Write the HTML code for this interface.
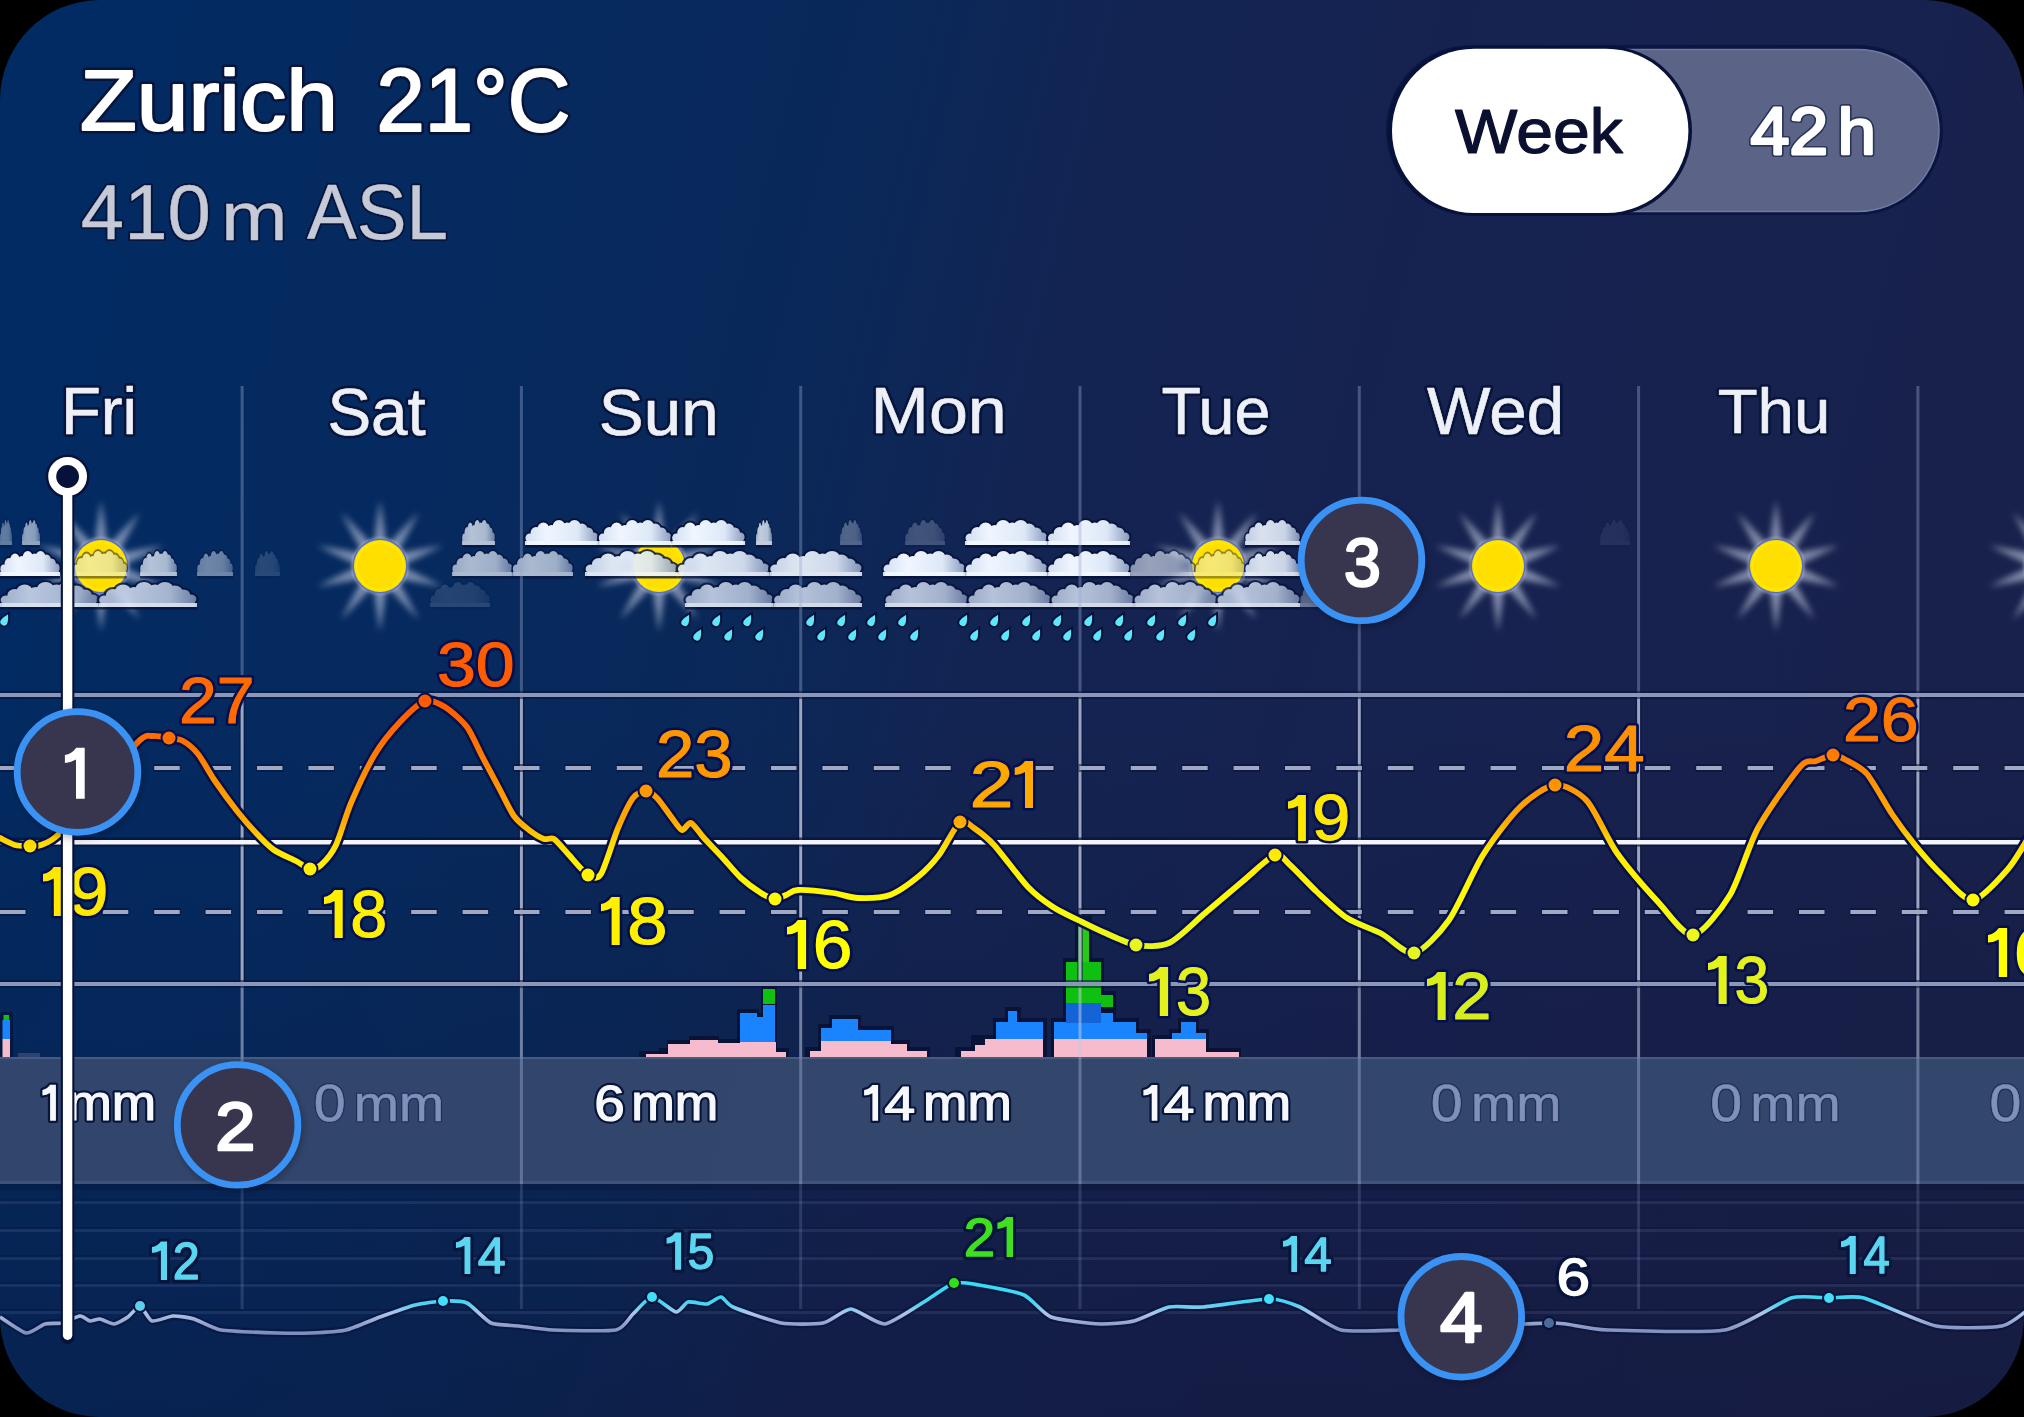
<!DOCTYPE html>
<html><head><meta charset="utf-8"><title>Zurich weather</title>
<style>
html,body{margin:0;padding:0;width:2024px;height:1417px;background:#000}
#card{position:absolute;left:0;top:0;width:2024px;height:1417px;border-radius:100px;overflow:hidden;background:linear-gradient(180deg,rgba(0,0,0,0) 50%,rgba(14,10,34,0.24) 100%),linear-gradient(104deg,#012b63 0%,#052a60 20%,#0a2859 38%,#0f2655 44%,#132452 48%,#162250 65%,#19214a 100%)}
svg{position:absolute;left:0;top:0}
text{font-family:"Liberation Sans",sans-serif;white-space:pre}
</style></head><body><div id="card">
<svg width="2024" height="1417" viewBox="0 0 2024 1417">
<defs>
<linearGradient id="tg" gradientUnits="userSpaceOnUse" x1="0" y1="700" x2="0" y2="960">
<stop offset="0" stop-color="#ff5a00"/><stop offset="0.146" stop-color="#ff6e00"/><stop offset="0.346" stop-color="#ff9800"/><stop offset="0.469" stop-color="#ffaa00"/><stop offset="0.546" stop-color="#ffd800"/><stop offset="0.596" stop-color="#ffec00"/><stop offset="0.77" stop-color="#fffa00"/><stop offset="0.96" stop-color="#e6f520"/></linearGradient>
<linearGradient id="wg" gradientUnits="userSpaceOnUse" x1="0" y1="1282" x2="0" y2="1334">
<stop offset="0" stop-color="#30e0f8"/><stop offset="0.4" stop-color="#48d4f2"/><stop offset="0.6" stop-color="#b0c4ec"/><stop offset="0.8" stop-color="#95a4cc"/><stop offset="1" stop-color="#7c8cbc"/></linearGradient>
<linearGradient id="cg" x1="0" y1="0" x2="1" y2="0"><stop offset="0" stop-color="#dfe9f7"/><stop offset="0.55" stop-color="#c8d6ea"/><stop offset="0.85" stop-color="#8d9cc0"/><stop offset="1" stop-color="#5d6e96"/></linearGradient>
<filter id="blur3" x="-50%" y="-50%" width="200%" height="200%"><feGaussianBlur stdDeviation="3"/></filter>
<filter id="blur2" x="-50%" y="-50%" width="200%" height="200%"><feGaussianBlur stdDeviation="2"/></filter>
<filter id="blur1" x="-20%" y="-20%" width="140%" height="140%"><feGaussianBlur stdDeviation="1.2"/></filter>
</defs>

<rect x="0" y="1057" width="2024" height="127" fill="#36496f" fill-opacity="0.93"/>
<rect x="0" y="1057" width="2024" height="2" fill="#a8b8e0" fill-opacity="0.18"/>
<rect x="0" y="1181" width="2024" height="3" fill="#a8b8e0" fill-opacity="0.12"/>
<rect x="0" y="1184" width="2024" height="6" fill="#030a28" fill-opacity="0.25"/>
<rect x="0" y="1199" width="2024" height="2" fill="#030a28" fill-opacity="0.18"/>
<rect x="0" y="1201" width="2024" height="3" fill="#8898d0" fill-opacity="0.13"/>
<rect x="0" y="1227" width="2024" height="2" fill="#030a28" fill-opacity="0.18"/>
<rect x="0" y="1229" width="2024" height="3" fill="#8898d0" fill-opacity="0.13"/>
<rect x="0" y="1255" width="2024" height="2" fill="#030a28" fill-opacity="0.18"/>
<rect x="0" y="1257" width="2024" height="3" fill="#8898d0" fill-opacity="0.13"/>
<rect x="0" y="1282" width="2024" height="2" fill="#030a28" fill-opacity="0.18"/>
<rect x="0" y="1284" width="2024" height="3" fill="#8898d0" fill-opacity="0.13"/>
<rect x="0" y="1309" width="2024" height="2" fill="#030a28" fill-opacity="0.18"/>
<rect x="0" y="1311" width="2024" height="3" fill="#8898d0" fill-opacity="0.13"/>
<defs><linearGradient id="cuag" gradientUnits="userSpaceOnUse" x1="0" y1="0" x2="80" y2="0"><stop offset="0" stop-color="#d2def2"/><stop offset="0.3" stop-color="#f0f6ff"/><stop offset="0.72" stop-color="#dde8f7"/><stop offset="1" stop-color="#8a9abe"/></linearGradient><linearGradient id="cucg" gradientUnits="userSpaceOnUse" x1="0" y1="0" x2="80" y2="0"><stop offset="0" stop-color="#aebcd6"/><stop offset="0.3" stop-color="#ccd8ec"/><stop offset="0.72" stop-color="#b6c4dc"/><stop offset="1" stop-color="#7585ab"/></linearGradient></defs>
<g opacity="1"><g filter="url(#blur3)" fill="#c4cbe2" fill-opacity="0.62"><path d="M94.5,545.0 L101.0,500.0 L107.5,545.0Z"/><path d="M83.4,552.8 L62.2,512.6 L93.9,545.2Z"/><path d="M79.0,565.7 L38.2,545.6 L83.0,553.3Z"/><path d="M83.0,578.7 L38.2,586.4 L79.0,566.3Z"/><path d="M93.9,586.8 L62.2,619.4 L83.4,579.2Z"/><path d="M107.5,587.0 L101.0,632.0 L94.5,587.0Z"/><path d="M118.6,579.2 L139.8,619.4 L108.1,586.8Z"/><path d="M123.0,566.3 L163.8,586.4 L119.0,578.7Z"/><path d="M119.0,553.3 L163.8,545.6 L123.0,565.7Z"/><path d="M108.1,545.2 L139.8,512.6 L118.6,552.8Z"/></g><circle cx="101" cy="566" r="29" fill="#c8d0f0" fill-opacity="0.35" filter="url(#blur1)"/><circle cx="101" cy="566" r="27.5" fill="#5a70c0"/><circle cx="101" cy="566" r="26" fill="#ffdf00"/><circle cx="101" cy="566" r="23.5" fill="none" stroke="#fff000" stroke-width="2.5" stroke-opacity="0.5"/></g>
<g opacity="1"><g filter="url(#blur3)" fill="#c4cbe2" fill-opacity="0.62"><path d="M373.5,545.0 L380.0,500.0 L386.5,545.0Z"/><path d="M362.4,552.8 L341.2,512.6 L372.9,545.2Z"/><path d="M358.0,565.7 L317.2,545.6 L362.0,553.3Z"/><path d="M362.0,578.7 L317.2,586.4 L358.0,566.3Z"/><path d="M372.9,586.8 L341.2,619.4 L362.4,579.2Z"/><path d="M386.5,587.0 L380.0,632.0 L373.5,587.0Z"/><path d="M397.6,579.2 L418.8,619.4 L387.1,586.8Z"/><path d="M402.0,566.3 L442.8,586.4 L398.0,578.7Z"/><path d="M398.0,553.3 L442.8,545.6 L402.0,565.7Z"/><path d="M387.1,545.2 L418.8,512.6 L397.6,552.8Z"/></g><circle cx="380" cy="566" r="29" fill="#c8d0f0" fill-opacity="0.35" filter="url(#blur1)"/><circle cx="380" cy="566" r="27.5" fill="#5a70c0"/><circle cx="380" cy="566" r="26" fill="#ffdf00"/><circle cx="380" cy="566" r="23.5" fill="none" stroke="#fff000" stroke-width="2.5" stroke-opacity="0.5"/></g>
<g opacity="1"><g filter="url(#blur3)" fill="#c4cbe2" fill-opacity="0.62"><path d="M652.5,545.0 L659.0,500.0 L665.5,545.0Z"/><path d="M641.4,552.8 L620.2,512.6 L651.9,545.2Z"/><path d="M637.0,565.7 L596.2,545.6 L641.0,553.3Z"/><path d="M641.0,578.7 L596.2,586.4 L637.0,566.3Z"/><path d="M651.9,586.8 L620.2,619.4 L641.4,579.2Z"/><path d="M665.5,587.0 L659.0,632.0 L652.5,587.0Z"/><path d="M676.6,579.2 L697.8,619.4 L666.1,586.8Z"/><path d="M681.0,566.3 L721.8,586.4 L677.0,578.7Z"/><path d="M677.0,553.3 L721.8,545.6 L681.0,565.7Z"/><path d="M666.1,545.2 L697.8,512.6 L676.6,552.8Z"/></g><circle cx="659" cy="566" r="29" fill="#c8d0f0" fill-opacity="0.35" filter="url(#blur1)"/><circle cx="659" cy="566" r="27.5" fill="#5a70c0"/><circle cx="659" cy="566" r="26" fill="#ffdf00"/><circle cx="659" cy="566" r="23.5" fill="none" stroke="#fff000" stroke-width="2.5" stroke-opacity="0.5"/></g>
<g opacity="1"><g filter="url(#blur3)" fill="#c4cbe2" fill-opacity="0.62"><path d="M1211.5,545.0 L1218.0,500.0 L1224.5,545.0Z"/><path d="M1200.4,552.8 L1179.2,512.6 L1210.9,545.2Z"/><path d="M1196.0,565.7 L1155.2,545.6 L1200.0,553.3Z"/><path d="M1200.0,578.7 L1155.2,586.4 L1196.0,566.3Z"/><path d="M1210.9,586.8 L1179.2,619.4 L1200.4,579.2Z"/><path d="M1224.5,587.0 L1218.0,632.0 L1211.5,587.0Z"/><path d="M1235.6,579.2 L1256.8,619.4 L1225.1,586.8Z"/><path d="M1240.0,566.3 L1280.8,586.4 L1236.0,578.7Z"/><path d="M1236.0,553.3 L1280.8,545.6 L1240.0,565.7Z"/><path d="M1225.1,545.2 L1256.8,512.6 L1235.6,552.8Z"/></g><circle cx="1218" cy="566" r="29" fill="#c8d0f0" fill-opacity="0.35" filter="url(#blur1)"/><circle cx="1218" cy="566" r="27.5" fill="#5a70c0"/><circle cx="1218" cy="566" r="26" fill="#ffdf00"/><circle cx="1218" cy="566" r="23.5" fill="none" stroke="#fff000" stroke-width="2.5" stroke-opacity="0.5"/></g>
<g opacity="1"><g filter="url(#blur3)" fill="#c4cbe2" fill-opacity="0.62"><path d="M1491.5,545.0 L1498.0,500.0 L1504.5,545.0Z"/><path d="M1480.4,552.8 L1459.2,512.6 L1490.9,545.2Z"/><path d="M1476.0,565.7 L1435.2,545.6 L1480.0,553.3Z"/><path d="M1480.0,578.7 L1435.2,586.4 L1476.0,566.3Z"/><path d="M1490.9,586.8 L1459.2,619.4 L1480.4,579.2Z"/><path d="M1504.5,587.0 L1498.0,632.0 L1491.5,587.0Z"/><path d="M1515.6,579.2 L1536.8,619.4 L1505.1,586.8Z"/><path d="M1520.0,566.3 L1560.8,586.4 L1516.0,578.7Z"/><path d="M1516.0,553.3 L1560.8,545.6 L1520.0,565.7Z"/><path d="M1505.1,545.2 L1536.8,512.6 L1515.6,552.8Z"/></g><circle cx="1498" cy="566" r="29" fill="#c8d0f0" fill-opacity="0.35" filter="url(#blur1)"/><circle cx="1498" cy="566" r="27.5" fill="#5a70c0"/><circle cx="1498" cy="566" r="26" fill="#ffdf00"/><circle cx="1498" cy="566" r="23.5" fill="none" stroke="#fff000" stroke-width="2.5" stroke-opacity="0.5"/></g>
<g opacity="1"><g filter="url(#blur3)" fill="#c4cbe2" fill-opacity="0.62"><path d="M1769.5,545.0 L1776.0,500.0 L1782.5,545.0Z"/><path d="M1758.4,552.8 L1737.2,512.6 L1768.9,545.2Z"/><path d="M1754.0,565.7 L1713.2,545.6 L1758.0,553.3Z"/><path d="M1758.0,578.7 L1713.2,586.4 L1754.0,566.3Z"/><path d="M1768.9,586.8 L1737.2,619.4 L1758.4,579.2Z"/><path d="M1782.5,587.0 L1776.0,632.0 L1769.5,587.0Z"/><path d="M1793.6,579.2 L1814.8,619.4 L1783.1,586.8Z"/><path d="M1798.0,566.3 L1838.8,586.4 L1794.0,578.7Z"/><path d="M1794.0,553.3 L1838.8,545.6 L1798.0,565.7Z"/><path d="M1783.1,545.2 L1814.8,512.6 L1793.6,552.8Z"/></g><circle cx="1776" cy="566" r="29" fill="#c8d0f0" fill-opacity="0.35" filter="url(#blur1)"/><circle cx="1776" cy="566" r="27.5" fill="#5a70c0"/><circle cx="1776" cy="566" r="26" fill="#ffdf00"/><circle cx="1776" cy="566" r="23.5" fill="none" stroke="#fff000" stroke-width="2.5" stroke-opacity="0.5"/></g>
<g opacity="1"><g filter="url(#blur3)" fill="#c4cbe2" fill-opacity="0.62"><path d="M2045.5,545.0 L2052.0,500.0 L2058.5,545.0Z"/><path d="M2034.4,552.8 L2013.2,512.6 L2044.9,545.2Z"/><path d="M2030.0,565.7 L1989.2,545.6 L2034.0,553.3Z"/><path d="M2034.0,578.7 L1989.2,586.4 L2030.0,566.3Z"/><path d="M2044.9,586.8 L2013.2,619.4 L2034.4,579.2Z"/><path d="M2058.5,587.0 L2052.0,632.0 L2045.5,587.0Z"/><path d="M2069.6,579.2 L2090.8,619.4 L2059.1,586.8Z"/><path d="M2074.0,566.3 L2114.8,586.4 L2070.0,578.7Z"/><path d="M2070.0,553.3 L2114.8,545.6 L2074.0,565.7Z"/><path d="M2059.1,545.2 L2090.8,512.6 L2069.6,552.8Z"/></g><circle cx="2052" cy="566" r="29" fill="#c8d0f0" fill-opacity="0.35" filter="url(#blur1)"/><circle cx="2052" cy="566" r="27.5" fill="#5a70c0"/><circle cx="2052" cy="566" r="26" fill="#ffdf00"/><circle cx="2052" cy="566" r="23.5" fill="none" stroke="#fff000" stroke-width="2.5" stroke-opacity="0.5"/></g>
<g opacity="0.4"><g transform="translate(0.0,519) scale(0.150,1)"><g fill="#06123a" fill-opacity="0.9"><circle cx="5" cy="19" r="6.5"/><circle cx="12" cy="14" r="8"/><circle cx="20" cy="10" r="8.5"/><circle cx="29" cy="12" r="8"/><circle cx="37" cy="8" r="9"/><circle cx="46" cy="10" r="8.5"/><circle cx="54" cy="8" r="9"/><circle cx="62" cy="11" r="8.5"/><circle cx="69" cy="14" r="7.5"/><circle cx="75" cy="18" r="6.5"/></g><g fill="url(#cuag)"><circle cx="5" cy="19" r="4.5"/><circle cx="12" cy="14" r="6"/><circle cx="20" cy="10" r="6.5"/><circle cx="29" cy="12" r="6"/><circle cx="37" cy="8" r="7"/><circle cx="46" cy="10" r="6.5"/><circle cx="54" cy="8" r="7"/><circle cx="62" cy="11" r="6.5"/><circle cx="69" cy="14" r="5.5"/><circle cx="75" cy="18" r="4.5"/><polygon points="2,26 2,19 5,19 12,14 20,10 29,12 37,8 46,10 54,8 62,11 69,14 75,18 78,18 78,26"/></g><rect x="0" y="22" width="80" height="4" fill="#f2f7ff" fill-opacity="0.9"/><rect x="0" y="26" width="80" height="2.5" fill="#06123a" fill-opacity="0.85"/></g></g>
<g opacity="0.6"><g transform="translate(22.0,519) scale(0.225,1)"><g fill="#06123a" fill-opacity="0.9"><circle cx="5" cy="19" r="6.5"/><circle cx="12" cy="14" r="8"/><circle cx="20" cy="10" r="8.5"/><circle cx="29" cy="12" r="8"/><circle cx="37" cy="8" r="9"/><circle cx="46" cy="10" r="8.5"/><circle cx="54" cy="8" r="9"/><circle cx="62" cy="11" r="8.5"/><circle cx="69" cy="14" r="7.5"/><circle cx="75" cy="18" r="6.5"/></g><g fill="url(#cuag)"><circle cx="5" cy="19" r="4.5"/><circle cx="12" cy="14" r="6"/><circle cx="20" cy="10" r="6.5"/><circle cx="29" cy="12" r="6"/><circle cx="37" cy="8" r="7"/><circle cx="46" cy="10" r="6.5"/><circle cx="54" cy="8" r="7"/><circle cx="62" cy="11" r="6.5"/><circle cx="69" cy="14" r="5.5"/><circle cx="75" cy="18" r="4.5"/><polygon points="2,26 2,19 5,19 12,14 20,10 29,12 37,8 46,10 54,8 62,11 69,14 75,18 78,18 78,26"/></g><rect x="0" y="22" width="80" height="4" fill="#f2f7ff" fill-opacity="0.9"/><rect x="0" y="26" width="80" height="2.5" fill="#06123a" fill-opacity="0.85"/></g></g>
<g opacity="0.75"><g transform="translate(462.0,519) scale(0.412,1)"><g fill="#06123a" fill-opacity="0.9"><circle cx="5" cy="19" r="6.5"/><circle cx="12" cy="14" r="8"/><circle cx="20" cy="10" r="8.5"/><circle cx="29" cy="12" r="8"/><circle cx="37" cy="8" r="9"/><circle cx="46" cy="10" r="8.5"/><circle cx="54" cy="8" r="9"/><circle cx="62" cy="11" r="8.5"/><circle cx="69" cy="14" r="7.5"/><circle cx="75" cy="18" r="6.5"/></g><g fill="url(#cuag)"><circle cx="5" cy="19" r="4.5"/><circle cx="12" cy="14" r="6"/><circle cx="20" cy="10" r="6.5"/><circle cx="29" cy="12" r="6"/><circle cx="37" cy="8" r="7"/><circle cx="46" cy="10" r="6.5"/><circle cx="54" cy="8" r="7"/><circle cx="62" cy="11" r="6.5"/><circle cx="69" cy="14" r="5.5"/><circle cx="75" cy="18" r="4.5"/><polygon points="2,26 2,19 5,19 12,14 20,10 29,12 37,8 46,10 54,8 62,11 69,14 75,18 78,18 78,26"/></g><rect x="0" y="22" width="80" height="4" fill="#f2f7ff" fill-opacity="0.9"/><rect x="0" y="26" width="80" height="2.5" fill="#06123a" fill-opacity="0.85"/></g></g>
<g opacity="1"><g transform="translate(525.0,519) scale(0.917,1)"><g fill="#06123a" fill-opacity="0.9"><circle cx="5" cy="19" r="6.5"/><circle cx="12" cy="14" r="8"/><circle cx="20" cy="10" r="8.5"/><circle cx="29" cy="12" r="8"/><circle cx="37" cy="8" r="9"/><circle cx="46" cy="10" r="8.5"/><circle cx="54" cy="8" r="9"/><circle cx="62" cy="11" r="8.5"/><circle cx="69" cy="14" r="7.5"/><circle cx="75" cy="18" r="6.5"/></g><g fill="url(#cuag)"><circle cx="5" cy="19" r="4.5"/><circle cx="12" cy="14" r="6"/><circle cx="20" cy="10" r="6.5"/><circle cx="29" cy="12" r="6"/><circle cx="37" cy="8" r="7"/><circle cx="46" cy="10" r="6.5"/><circle cx="54" cy="8" r="7"/><circle cx="62" cy="11" r="6.5"/><circle cx="69" cy="14" r="5.5"/><circle cx="75" cy="18" r="4.5"/><polygon points="2,26 2,19 5,19 12,14 20,10 29,12 37,8 46,10 54,8 62,11 69,14 75,18 78,18 78,26"/></g><rect x="0" y="22" width="80" height="4" fill="#f2f7ff" fill-opacity="0.9"/><rect x="0" y="26" width="80" height="2.5" fill="#06123a" fill-opacity="0.85"/></g><g transform="translate(598.3,519) scale(0.917,1)"><g fill="#06123a" fill-opacity="0.9"><circle cx="5" cy="19" r="6.5"/><circle cx="12" cy="14" r="8"/><circle cx="20" cy="10" r="8.5"/><circle cx="29" cy="12" r="8"/><circle cx="37" cy="8" r="9"/><circle cx="46" cy="10" r="8.5"/><circle cx="54" cy="8" r="9"/><circle cx="62" cy="11" r="8.5"/><circle cx="69" cy="14" r="7.5"/><circle cx="75" cy="18" r="6.5"/></g><g fill="url(#cuag)"><circle cx="5" cy="19" r="4.5"/><circle cx="12" cy="14" r="6"/><circle cx="20" cy="10" r="6.5"/><circle cx="29" cy="12" r="6"/><circle cx="37" cy="8" r="7"/><circle cx="46" cy="10" r="6.5"/><circle cx="54" cy="8" r="7"/><circle cx="62" cy="11" r="6.5"/><circle cx="69" cy="14" r="5.5"/><circle cx="75" cy="18" r="4.5"/><polygon points="2,26 2,19 5,19 12,14 20,10 29,12 37,8 46,10 54,8 62,11 69,14 75,18 78,18 78,26"/></g><rect x="0" y="22" width="80" height="4" fill="#f2f7ff" fill-opacity="0.9"/><rect x="0" y="26" width="80" height="2.5" fill="#06123a" fill-opacity="0.85"/></g><g transform="translate(671.7,519) scale(0.917,1)"><g fill="#06123a" fill-opacity="0.9"><circle cx="5" cy="19" r="6.5"/><circle cx="12" cy="14" r="8"/><circle cx="20" cy="10" r="8.5"/><circle cx="29" cy="12" r="8"/><circle cx="37" cy="8" r="9"/><circle cx="46" cy="10" r="8.5"/><circle cx="54" cy="8" r="9"/><circle cx="62" cy="11" r="8.5"/><circle cx="69" cy="14" r="7.5"/><circle cx="75" cy="18" r="6.5"/></g><g fill="url(#cuag)"><circle cx="5" cy="19" r="4.5"/><circle cx="12" cy="14" r="6"/><circle cx="20" cy="10" r="6.5"/><circle cx="29" cy="12" r="6"/><circle cx="37" cy="8" r="7"/><circle cx="46" cy="10" r="6.5"/><circle cx="54" cy="8" r="7"/><circle cx="62" cy="11" r="6.5"/><circle cx="69" cy="14" r="5.5"/><circle cx="75" cy="18" r="4.5"/><polygon points="2,26 2,19 5,19 12,14 20,10 29,12 37,8 46,10 54,8 62,11 69,14 75,18 78,18 78,26"/></g><rect x="0" y="22" width="80" height="4" fill="#f2f7ff" fill-opacity="0.9"/><rect x="0" y="26" width="80" height="2.5" fill="#06123a" fill-opacity="0.85"/></g></g>
<g opacity="0.8"><g transform="translate(756.0,519) scale(0.200,1)"><g fill="#06123a" fill-opacity="0.9"><circle cx="5" cy="19" r="6.5"/><circle cx="12" cy="14" r="8"/><circle cx="20" cy="10" r="8.5"/><circle cx="29" cy="12" r="8"/><circle cx="37" cy="8" r="9"/><circle cx="46" cy="10" r="8.5"/><circle cx="54" cy="8" r="9"/><circle cx="62" cy="11" r="8.5"/><circle cx="69" cy="14" r="7.5"/><circle cx="75" cy="18" r="6.5"/></g><g fill="url(#cuag)"><circle cx="5" cy="19" r="4.5"/><circle cx="12" cy="14" r="6"/><circle cx="20" cy="10" r="6.5"/><circle cx="29" cy="12" r="6"/><circle cx="37" cy="8" r="7"/><circle cx="46" cy="10" r="6.5"/><circle cx="54" cy="8" r="7"/><circle cx="62" cy="11" r="6.5"/><circle cx="69" cy="14" r="5.5"/><circle cx="75" cy="18" r="4.5"/><polygon points="2,26 2,19 5,19 12,14 20,10 29,12 37,8 46,10 54,8 62,11 69,14 75,18 78,18 78,26"/></g><rect x="0" y="22" width="80" height="4" fill="#f2f7ff" fill-opacity="0.9"/><rect x="0" y="26" width="80" height="2.5" fill="#06123a" fill-opacity="0.85"/></g></g>
<g opacity="0.3"><g transform="translate(840.0,519) scale(0.275,1)"><g fill="#06123a" fill-opacity="0.9"><circle cx="5" cy="19" r="6.5"/><circle cx="12" cy="14" r="8"/><circle cx="20" cy="10" r="8.5"/><circle cx="29" cy="12" r="8"/><circle cx="37" cy="8" r="9"/><circle cx="46" cy="10" r="8.5"/><circle cx="54" cy="8" r="9"/><circle cx="62" cy="11" r="8.5"/><circle cx="69" cy="14" r="7.5"/><circle cx="75" cy="18" r="6.5"/></g><g fill="url(#cuag)"><circle cx="5" cy="19" r="4.5"/><circle cx="12" cy="14" r="6"/><circle cx="20" cy="10" r="6.5"/><circle cx="29" cy="12" r="6"/><circle cx="37" cy="8" r="7"/><circle cx="46" cy="10" r="6.5"/><circle cx="54" cy="8" r="7"/><circle cx="62" cy="11" r="6.5"/><circle cx="69" cy="14" r="5.5"/><circle cx="75" cy="18" r="4.5"/><polygon points="2,26 2,19 5,19 12,14 20,10 29,12 37,8 46,10 54,8 62,11 69,14 75,18 78,18 78,26"/></g><rect x="0" y="22" width="80" height="4" fill="#f2f7ff" fill-opacity="0.9"/><rect x="0" y="26" width="80" height="2.5" fill="#06123a" fill-opacity="0.85"/></g></g>
<g opacity="0.22"><g transform="translate(905.0,519) scale(0.500,1)"><g fill="#06123a" fill-opacity="0.9"><circle cx="5" cy="19" r="6.5"/><circle cx="12" cy="14" r="8"/><circle cx="20" cy="10" r="8.5"/><circle cx="29" cy="12" r="8"/><circle cx="37" cy="8" r="9"/><circle cx="46" cy="10" r="8.5"/><circle cx="54" cy="8" r="9"/><circle cx="62" cy="11" r="8.5"/><circle cx="69" cy="14" r="7.5"/><circle cx="75" cy="18" r="6.5"/></g><g fill="url(#cuag)"><circle cx="5" cy="19" r="4.5"/><circle cx="12" cy="14" r="6"/><circle cx="20" cy="10" r="6.5"/><circle cx="29" cy="12" r="6"/><circle cx="37" cy="8" r="7"/><circle cx="46" cy="10" r="6.5"/><circle cx="54" cy="8" r="7"/><circle cx="62" cy="11" r="6.5"/><circle cx="69" cy="14" r="5.5"/><circle cx="75" cy="18" r="4.5"/><polygon points="2,26 2,19 5,19 12,14 20,10 29,12 37,8 46,10 54,8 62,11 69,14 75,18 78,18 78,26"/></g><rect x="0" y="22" width="80" height="4" fill="#f2f7ff" fill-opacity="0.9"/><rect x="0" y="26" width="80" height="2.5" fill="#06123a" fill-opacity="0.85"/></g></g>
<g opacity="1"><g transform="translate(965.0,519) scale(1.031,1)"><g fill="#06123a" fill-opacity="0.9"><circle cx="5" cy="19" r="6.5"/><circle cx="12" cy="14" r="8"/><circle cx="20" cy="10" r="8.5"/><circle cx="29" cy="12" r="8"/><circle cx="37" cy="8" r="9"/><circle cx="46" cy="10" r="8.5"/><circle cx="54" cy="8" r="9"/><circle cx="62" cy="11" r="8.5"/><circle cx="69" cy="14" r="7.5"/><circle cx="75" cy="18" r="6.5"/></g><g fill="url(#cuag)"><circle cx="5" cy="19" r="4.5"/><circle cx="12" cy="14" r="6"/><circle cx="20" cy="10" r="6.5"/><circle cx="29" cy="12" r="6"/><circle cx="37" cy="8" r="7"/><circle cx="46" cy="10" r="6.5"/><circle cx="54" cy="8" r="7"/><circle cx="62" cy="11" r="6.5"/><circle cx="69" cy="14" r="5.5"/><circle cx="75" cy="18" r="4.5"/><polygon points="2,26 2,19 5,19 12,14 20,10 29,12 37,8 46,10 54,8 62,11 69,14 75,18 78,18 78,26"/></g><rect x="0" y="22" width="80" height="4" fill="#f2f7ff" fill-opacity="0.9"/><rect x="0" y="26" width="80" height="2.5" fill="#06123a" fill-opacity="0.85"/></g><g transform="translate(1047.5,519) scale(1.031,1)"><g fill="#06123a" fill-opacity="0.9"><circle cx="5" cy="19" r="6.5"/><circle cx="12" cy="14" r="8"/><circle cx="20" cy="10" r="8.5"/><circle cx="29" cy="12" r="8"/><circle cx="37" cy="8" r="9"/><circle cx="46" cy="10" r="8.5"/><circle cx="54" cy="8" r="9"/><circle cx="62" cy="11" r="8.5"/><circle cx="69" cy="14" r="7.5"/><circle cx="75" cy="18" r="6.5"/></g><g fill="url(#cuag)"><circle cx="5" cy="19" r="4.5"/><circle cx="12" cy="14" r="6"/><circle cx="20" cy="10" r="6.5"/><circle cx="29" cy="12" r="6"/><circle cx="37" cy="8" r="7"/><circle cx="46" cy="10" r="6.5"/><circle cx="54" cy="8" r="7"/><circle cx="62" cy="11" r="6.5"/><circle cx="69" cy="14" r="5.5"/><circle cx="75" cy="18" r="4.5"/><polygon points="2,26 2,19 5,19 12,14 20,10 29,12 37,8 46,10 54,8 62,11 69,14 75,18 78,18 78,26"/></g><rect x="0" y="22" width="80" height="4" fill="#f2f7ff" fill-opacity="0.9"/><rect x="0" y="26" width="80" height="2.5" fill="#06123a" fill-opacity="0.85"/></g></g>
<g opacity="0.9"><g transform="translate(1245.0,519) scale(0.688,1)"><g fill="#06123a" fill-opacity="0.9"><circle cx="5" cy="19" r="6.5"/><circle cx="12" cy="14" r="8"/><circle cx="20" cy="10" r="8.5"/><circle cx="29" cy="12" r="8"/><circle cx="37" cy="8" r="9"/><circle cx="46" cy="10" r="8.5"/><circle cx="54" cy="8" r="9"/><circle cx="62" cy="11" r="8.5"/><circle cx="69" cy="14" r="7.5"/><circle cx="75" cy="18" r="6.5"/></g><g fill="url(#cuag)"><circle cx="5" cy="19" r="4.5"/><circle cx="12" cy="14" r="6"/><circle cx="20" cy="10" r="6.5"/><circle cx="29" cy="12" r="6"/><circle cx="37" cy="8" r="7"/><circle cx="46" cy="10" r="6.5"/><circle cx="54" cy="8" r="7"/><circle cx="62" cy="11" r="6.5"/><circle cx="69" cy="14" r="5.5"/><circle cx="75" cy="18" r="4.5"/><polygon points="2,26 2,19 5,19 12,14 20,10 29,12 37,8 46,10 54,8 62,11 69,14 75,18 78,18 78,26"/></g><rect x="0" y="22" width="80" height="4" fill="#f2f7ff" fill-opacity="0.9"/><rect x="0" y="26" width="80" height="2.5" fill="#06123a" fill-opacity="0.85"/></g></g>
<g opacity="0.07"><g transform="translate(1600.0,519) scale(0.375,1)"><g fill="#06123a" fill-opacity="0.9"><circle cx="5" cy="19" r="6.5"/><circle cx="12" cy="14" r="8"/><circle cx="20" cy="10" r="8.5"/><circle cx="29" cy="12" r="8"/><circle cx="37" cy="8" r="9"/><circle cx="46" cy="10" r="8.5"/><circle cx="54" cy="8" r="9"/><circle cx="62" cy="11" r="8.5"/><circle cx="69" cy="14" r="7.5"/><circle cx="75" cy="18" r="6.5"/></g><g fill="url(#cuag)"><circle cx="5" cy="19" r="4.5"/><circle cx="12" cy="14" r="6"/><circle cx="20" cy="10" r="6.5"/><circle cx="29" cy="12" r="6"/><circle cx="37" cy="8" r="7"/><circle cx="46" cy="10" r="6.5"/><circle cx="54" cy="8" r="7"/><circle cx="62" cy="11" r="6.5"/><circle cx="69" cy="14" r="5.5"/><circle cx="75" cy="18" r="4.5"/><polygon points="2,26 2,19 5,19 12,14 20,10 29,12 37,8 46,10 54,8 62,11 69,14 75,18 78,18 78,26"/></g><rect x="0" y="22" width="80" height="4" fill="#f2f7ff" fill-opacity="0.9"/><rect x="0" y="26" width="80" height="2.5" fill="#06123a" fill-opacity="0.85"/></g></g>
<g opacity="1"><g transform="translate(0.0,550) scale(0.750,1)"><g fill="#06123a" fill-opacity="0.9"><circle cx="5" cy="19" r="6.5"/><circle cx="12" cy="14" r="8"/><circle cx="20" cy="10" r="8.5"/><circle cx="29" cy="12" r="8"/><circle cx="37" cy="8" r="9"/><circle cx="46" cy="10" r="8.5"/><circle cx="54" cy="8" r="9"/><circle cx="62" cy="11" r="8.5"/><circle cx="69" cy="14" r="7.5"/><circle cx="75" cy="18" r="6.5"/></g><g fill="url(#cuag)"><circle cx="5" cy="19" r="4.5"/><circle cx="12" cy="14" r="6"/><circle cx="20" cy="10" r="6.5"/><circle cx="29" cy="12" r="6"/><circle cx="37" cy="8" r="7"/><circle cx="46" cy="10" r="6.5"/><circle cx="54" cy="8" r="7"/><circle cx="62" cy="11" r="6.5"/><circle cx="69" cy="14" r="5.5"/><circle cx="75" cy="18" r="4.5"/><polygon points="2,26 2,19 5,19 12,14 20,10 29,12 37,8 46,10 54,8 62,11 69,14 75,18 78,18 78,26"/></g><rect x="0" y="22" width="80" height="4" fill="#f2f7ff" fill-opacity="0.9"/><rect x="0" y="26" width="80" height="2.5" fill="#06123a" fill-opacity="0.85"/></g></g>
<g opacity="0.55"><g transform="translate(73.0,550) scale(0.675,1)"><g fill="#06123a" fill-opacity="0.9"><circle cx="5" cy="19" r="6.5"/><circle cx="12" cy="14" r="8"/><circle cx="20" cy="10" r="8.5"/><circle cx="29" cy="12" r="8"/><circle cx="37" cy="8" r="9"/><circle cx="46" cy="10" r="8.5"/><circle cx="54" cy="8" r="9"/><circle cx="62" cy="11" r="8.5"/><circle cx="69" cy="14" r="7.5"/><circle cx="75" cy="18" r="6.5"/></g><g fill="url(#cuag)"><circle cx="5" cy="19" r="4.5"/><circle cx="12" cy="14" r="6"/><circle cx="20" cy="10" r="6.5"/><circle cx="29" cy="12" r="6"/><circle cx="37" cy="8" r="7"/><circle cx="46" cy="10" r="6.5"/><circle cx="54" cy="8" r="7"/><circle cx="62" cy="11" r="6.5"/><circle cx="69" cy="14" r="5.5"/><circle cx="75" cy="18" r="4.5"/><polygon points="2,26 2,19 5,19 12,14 20,10 29,12 37,8 46,10 54,8 62,11 69,14 75,18 78,18 78,26"/></g><rect x="0" y="22" width="80" height="4" fill="#f2f7ff" fill-opacity="0.9"/><rect x="0" y="26" width="80" height="2.5" fill="#06123a" fill-opacity="0.85"/></g></g>
<g opacity="0.75"><g transform="translate(140.0,550) scale(0.463,1)"><g fill="#06123a" fill-opacity="0.9"><circle cx="5" cy="19" r="6.5"/><circle cx="12" cy="14" r="8"/><circle cx="20" cy="10" r="8.5"/><circle cx="29" cy="12" r="8"/><circle cx="37" cy="8" r="9"/><circle cx="46" cy="10" r="8.5"/><circle cx="54" cy="8" r="9"/><circle cx="62" cy="11" r="8.5"/><circle cx="69" cy="14" r="7.5"/><circle cx="75" cy="18" r="6.5"/></g><g fill="url(#cuag)"><circle cx="5" cy="19" r="4.5"/><circle cx="12" cy="14" r="6"/><circle cx="20" cy="10" r="6.5"/><circle cx="29" cy="12" r="6"/><circle cx="37" cy="8" r="7"/><circle cx="46" cy="10" r="6.5"/><circle cx="54" cy="8" r="7"/><circle cx="62" cy="11" r="6.5"/><circle cx="69" cy="14" r="5.5"/><circle cx="75" cy="18" r="4.5"/><polygon points="2,26 2,19 5,19 12,14 20,10 29,12 37,8 46,10 54,8 62,11 69,14 75,18 78,18 78,26"/></g><rect x="0" y="22" width="80" height="4" fill="#f2f7ff" fill-opacity="0.9"/><rect x="0" y="26" width="80" height="2.5" fill="#06123a" fill-opacity="0.85"/></g></g>
<g opacity="0.45"><g transform="translate(197.0,550) scale(0.450,1)"><g fill="#06123a" fill-opacity="0.9"><circle cx="5" cy="19" r="6.5"/><circle cx="12" cy="14" r="8"/><circle cx="20" cy="10" r="8.5"/><circle cx="29" cy="12" r="8"/><circle cx="37" cy="8" r="9"/><circle cx="46" cy="10" r="8.5"/><circle cx="54" cy="8" r="9"/><circle cx="62" cy="11" r="8.5"/><circle cx="69" cy="14" r="7.5"/><circle cx="75" cy="18" r="6.5"/></g><g fill="url(#cuag)"><circle cx="5" cy="19" r="4.5"/><circle cx="12" cy="14" r="6"/><circle cx="20" cy="10" r="6.5"/><circle cx="29" cy="12" r="6"/><circle cx="37" cy="8" r="7"/><circle cx="46" cy="10" r="6.5"/><circle cx="54" cy="8" r="7"/><circle cx="62" cy="11" r="6.5"/><circle cx="69" cy="14" r="5.5"/><circle cx="75" cy="18" r="4.5"/><polygon points="2,26 2,19 5,19 12,14 20,10 29,12 37,8 46,10 54,8 62,11 69,14 75,18 78,18 78,26"/></g><rect x="0" y="22" width="80" height="4" fill="#f2f7ff" fill-opacity="0.9"/><rect x="0" y="26" width="80" height="2.5" fill="#06123a" fill-opacity="0.85"/></g></g>
<g opacity="0.15"><g transform="translate(255.0,550) scale(0.312,1)"><g fill="#06123a" fill-opacity="0.9"><circle cx="5" cy="19" r="6.5"/><circle cx="12" cy="14" r="8"/><circle cx="20" cy="10" r="8.5"/><circle cx="29" cy="12" r="8"/><circle cx="37" cy="8" r="9"/><circle cx="46" cy="10" r="8.5"/><circle cx="54" cy="8" r="9"/><circle cx="62" cy="11" r="8.5"/><circle cx="69" cy="14" r="7.5"/><circle cx="75" cy="18" r="6.5"/></g><g fill="url(#cuag)"><circle cx="5" cy="19" r="4.5"/><circle cx="12" cy="14" r="6"/><circle cx="20" cy="10" r="6.5"/><circle cx="29" cy="12" r="6"/><circle cx="37" cy="8" r="7"/><circle cx="46" cy="10" r="6.5"/><circle cx="54" cy="8" r="7"/><circle cx="62" cy="11" r="6.5"/><circle cx="69" cy="14" r="5.5"/><circle cx="75" cy="18" r="4.5"/><polygon points="2,26 2,19 5,19 12,14 20,10 29,12 37,8 46,10 54,8 62,11 69,14 75,18 78,18 78,26"/></g><rect x="0" y="22" width="80" height="4" fill="#f2f7ff" fill-opacity="0.9"/><rect x="0" y="26" width="80" height="2.5" fill="#06123a" fill-opacity="0.85"/></g></g>
<g opacity="0.7"><g transform="translate(452.0,550) scale(0.756,1)"><g fill="#06123a" fill-opacity="0.9"><circle cx="5" cy="19" r="6.5"/><circle cx="12" cy="14" r="8"/><circle cx="20" cy="10" r="8.5"/><circle cx="29" cy="12" r="8"/><circle cx="37" cy="8" r="9"/><circle cx="46" cy="10" r="8.5"/><circle cx="54" cy="8" r="9"/><circle cx="62" cy="11" r="8.5"/><circle cx="69" cy="14" r="7.5"/><circle cx="75" cy="18" r="6.5"/></g><g fill="url(#cuag)"><circle cx="5" cy="19" r="4.5"/><circle cx="12" cy="14" r="6"/><circle cx="20" cy="10" r="6.5"/><circle cx="29" cy="12" r="6"/><circle cx="37" cy="8" r="7"/><circle cx="46" cy="10" r="6.5"/><circle cx="54" cy="8" r="7"/><circle cx="62" cy="11" r="6.5"/><circle cx="69" cy="14" r="5.5"/><circle cx="75" cy="18" r="4.5"/><polygon points="2,26 2,19 5,19 12,14 20,10 29,12 37,8 46,10 54,8 62,11 69,14 75,18 78,18 78,26"/></g><rect x="0" y="22" width="80" height="4" fill="#f2f7ff" fill-opacity="0.9"/><rect x="0" y="26" width="80" height="2.5" fill="#06123a" fill-opacity="0.85"/></g><g transform="translate(512.5,550) scale(0.756,1)"><g fill="#06123a" fill-opacity="0.9"><circle cx="5" cy="19" r="6.5"/><circle cx="12" cy="14" r="8"/><circle cx="20" cy="10" r="8.5"/><circle cx="29" cy="12" r="8"/><circle cx="37" cy="8" r="9"/><circle cx="46" cy="10" r="8.5"/><circle cx="54" cy="8" r="9"/><circle cx="62" cy="11" r="8.5"/><circle cx="69" cy="14" r="7.5"/><circle cx="75" cy="18" r="6.5"/></g><g fill="url(#cuag)"><circle cx="5" cy="19" r="4.5"/><circle cx="12" cy="14" r="6"/><circle cx="20" cy="10" r="6.5"/><circle cx="29" cy="12" r="6"/><circle cx="37" cy="8" r="7"/><circle cx="46" cy="10" r="6.5"/><circle cx="54" cy="8" r="7"/><circle cx="62" cy="11" r="6.5"/><circle cx="69" cy="14" r="5.5"/><circle cx="75" cy="18" r="4.5"/><polygon points="2,26 2,19 5,19 12,14 20,10 29,12 37,8 46,10 54,8 62,11 69,14 75,18 78,18 78,26"/></g><rect x="0" y="22" width="80" height="4" fill="#f2f7ff" fill-opacity="0.9"/><rect x="0" y="26" width="80" height="2.5" fill="#06123a" fill-opacity="0.85"/></g></g>
<g opacity="0.92"><g transform="translate(585.0,550) scale(1.154,1)"><g fill="#06123a" fill-opacity="0.9"><circle cx="5" cy="19" r="6.5"/><circle cx="12" cy="14" r="8"/><circle cx="20" cy="10" r="8.5"/><circle cx="29" cy="12" r="8"/><circle cx="37" cy="8" r="9"/><circle cx="46" cy="10" r="8.5"/><circle cx="54" cy="8" r="9"/><circle cx="62" cy="11" r="8.5"/><circle cx="69" cy="14" r="7.5"/><circle cx="75" cy="18" r="6.5"/></g><g fill="url(#cuag)"><circle cx="5" cy="19" r="4.5"/><circle cx="12" cy="14" r="6"/><circle cx="20" cy="10" r="6.5"/><circle cx="29" cy="12" r="6"/><circle cx="37" cy="8" r="7"/><circle cx="46" cy="10" r="6.5"/><circle cx="54" cy="8" r="7"/><circle cx="62" cy="11" r="6.5"/><circle cx="69" cy="14" r="5.5"/><circle cx="75" cy="18" r="4.5"/><polygon points="2,26 2,19 5,19 12,14 20,10 29,12 37,8 46,10 54,8 62,11 69,14 75,18 78,18 78,26"/></g><rect x="0" y="22" width="80" height="4" fill="#f2f7ff" fill-opacity="0.9"/><rect x="0" y="26" width="80" height="2.5" fill="#06123a" fill-opacity="0.85"/></g><g transform="translate(677.3,550) scale(1.154,1)"><g fill="#06123a" fill-opacity="0.9"><circle cx="5" cy="19" r="6.5"/><circle cx="12" cy="14" r="8"/><circle cx="20" cy="10" r="8.5"/><circle cx="29" cy="12" r="8"/><circle cx="37" cy="8" r="9"/><circle cx="46" cy="10" r="8.5"/><circle cx="54" cy="8" r="9"/><circle cx="62" cy="11" r="8.5"/><circle cx="69" cy="14" r="7.5"/><circle cx="75" cy="18" r="6.5"/></g><g fill="url(#cuag)"><circle cx="5" cy="19" r="4.5"/><circle cx="12" cy="14" r="6"/><circle cx="20" cy="10" r="6.5"/><circle cx="29" cy="12" r="6"/><circle cx="37" cy="8" r="7"/><circle cx="46" cy="10" r="6.5"/><circle cx="54" cy="8" r="7"/><circle cx="62" cy="11" r="6.5"/><circle cx="69" cy="14" r="5.5"/><circle cx="75" cy="18" r="4.5"/><polygon points="2,26 2,19 5,19 12,14 20,10 29,12 37,8 46,10 54,8 62,11 69,14 75,18 78,18 78,26"/></g><rect x="0" y="22" width="80" height="4" fill="#f2f7ff" fill-opacity="0.9"/><rect x="0" y="26" width="80" height="2.5" fill="#06123a" fill-opacity="0.85"/></g><g transform="translate(769.7,550) scale(1.154,1)"><g fill="#06123a" fill-opacity="0.9"><circle cx="5" cy="19" r="6.5"/><circle cx="12" cy="14" r="8"/><circle cx="20" cy="10" r="8.5"/><circle cx="29" cy="12" r="8"/><circle cx="37" cy="8" r="9"/><circle cx="46" cy="10" r="8.5"/><circle cx="54" cy="8" r="9"/><circle cx="62" cy="11" r="8.5"/><circle cx="69" cy="14" r="7.5"/><circle cx="75" cy="18" r="6.5"/></g><g fill="url(#cuag)"><circle cx="5" cy="19" r="4.5"/><circle cx="12" cy="14" r="6"/><circle cx="20" cy="10" r="6.5"/><circle cx="29" cy="12" r="6"/><circle cx="37" cy="8" r="7"/><circle cx="46" cy="10" r="6.5"/><circle cx="54" cy="8" r="7"/><circle cx="62" cy="11" r="6.5"/><circle cx="69" cy="14" r="5.5"/><circle cx="75" cy="18" r="4.5"/><polygon points="2,26 2,19 5,19 12,14 20,10 29,12 37,8 46,10 54,8 62,11 69,14 75,18 78,18 78,26"/></g><rect x="0" y="22" width="80" height="4" fill="#f2f7ff" fill-opacity="0.9"/><rect x="0" y="26" width="80" height="2.5" fill="#06123a" fill-opacity="0.85"/></g></g>
<g opacity="1"><g transform="translate(883.0,550) scale(1.029,1)"><g fill="#06123a" fill-opacity="0.9"><circle cx="5" cy="19" r="6.5"/><circle cx="12" cy="14" r="8"/><circle cx="20" cy="10" r="8.5"/><circle cx="29" cy="12" r="8"/><circle cx="37" cy="8" r="9"/><circle cx="46" cy="10" r="8.5"/><circle cx="54" cy="8" r="9"/><circle cx="62" cy="11" r="8.5"/><circle cx="69" cy="14" r="7.5"/><circle cx="75" cy="18" r="6.5"/></g><g fill="url(#cuag)"><circle cx="5" cy="19" r="4.5"/><circle cx="12" cy="14" r="6"/><circle cx="20" cy="10" r="6.5"/><circle cx="29" cy="12" r="6"/><circle cx="37" cy="8" r="7"/><circle cx="46" cy="10" r="6.5"/><circle cx="54" cy="8" r="7"/><circle cx="62" cy="11" r="6.5"/><circle cx="69" cy="14" r="5.5"/><circle cx="75" cy="18" r="4.5"/><polygon points="2,26 2,19 5,19 12,14 20,10 29,12 37,8 46,10 54,8 62,11 69,14 75,18 78,18 78,26"/></g><rect x="0" y="22" width="80" height="4" fill="#f2f7ff" fill-opacity="0.9"/><rect x="0" y="26" width="80" height="2.5" fill="#06123a" fill-opacity="0.85"/></g><g transform="translate(965.3,550) scale(1.029,1)"><g fill="#06123a" fill-opacity="0.9"><circle cx="5" cy="19" r="6.5"/><circle cx="12" cy="14" r="8"/><circle cx="20" cy="10" r="8.5"/><circle cx="29" cy="12" r="8"/><circle cx="37" cy="8" r="9"/><circle cx="46" cy="10" r="8.5"/><circle cx="54" cy="8" r="9"/><circle cx="62" cy="11" r="8.5"/><circle cx="69" cy="14" r="7.5"/><circle cx="75" cy="18" r="6.5"/></g><g fill="url(#cuag)"><circle cx="5" cy="19" r="4.5"/><circle cx="12" cy="14" r="6"/><circle cx="20" cy="10" r="6.5"/><circle cx="29" cy="12" r="6"/><circle cx="37" cy="8" r="7"/><circle cx="46" cy="10" r="6.5"/><circle cx="54" cy="8" r="7"/><circle cx="62" cy="11" r="6.5"/><circle cx="69" cy="14" r="5.5"/><circle cx="75" cy="18" r="4.5"/><polygon points="2,26 2,19 5,19 12,14 20,10 29,12 37,8 46,10 54,8 62,11 69,14 75,18 78,18 78,26"/></g><rect x="0" y="22" width="80" height="4" fill="#f2f7ff" fill-opacity="0.9"/><rect x="0" y="26" width="80" height="2.5" fill="#06123a" fill-opacity="0.85"/></g><g transform="translate(1047.7,550) scale(1.029,1)"><g fill="#06123a" fill-opacity="0.9"><circle cx="5" cy="19" r="6.5"/><circle cx="12" cy="14" r="8"/><circle cx="20" cy="10" r="8.5"/><circle cx="29" cy="12" r="8"/><circle cx="37" cy="8" r="9"/><circle cx="46" cy="10" r="8.5"/><circle cx="54" cy="8" r="9"/><circle cx="62" cy="11" r="8.5"/><circle cx="69" cy="14" r="7.5"/><circle cx="75" cy="18" r="6.5"/></g><g fill="url(#cuag)"><circle cx="5" cy="19" r="4.5"/><circle cx="12" cy="14" r="6"/><circle cx="20" cy="10" r="6.5"/><circle cx="29" cy="12" r="6"/><circle cx="37" cy="8" r="7"/><circle cx="46" cy="10" r="6.5"/><circle cx="54" cy="8" r="7"/><circle cx="62" cy="11" r="6.5"/><circle cx="69" cy="14" r="5.5"/><circle cx="75" cy="18" r="4.5"/><polygon points="2,26 2,19 5,19 12,14 20,10 29,12 37,8 46,10 54,8 62,11 69,14 75,18 78,18 78,26"/></g><rect x="0" y="22" width="80" height="4" fill="#f2f7ff" fill-opacity="0.9"/><rect x="0" y="26" width="80" height="2.5" fill="#06123a" fill-opacity="0.85"/></g></g>
<g opacity="0.6"><g transform="translate(1130.0,550) scale(0.812,1)"><g fill="#06123a" fill-opacity="0.9"><circle cx="5" cy="19" r="6.5"/><circle cx="12" cy="14" r="8"/><circle cx="20" cy="10" r="8.5"/><circle cx="29" cy="12" r="8"/><circle cx="37" cy="8" r="9"/><circle cx="46" cy="10" r="8.5"/><circle cx="54" cy="8" r="9"/><circle cx="62" cy="11" r="8.5"/><circle cx="69" cy="14" r="7.5"/><circle cx="75" cy="18" r="6.5"/></g><g fill="url(#cuag)"><circle cx="5" cy="19" r="4.5"/><circle cx="12" cy="14" r="6"/><circle cx="20" cy="10" r="6.5"/><circle cx="29" cy="12" r="6"/><circle cx="37" cy="8" r="7"/><circle cx="46" cy="10" r="6.5"/><circle cx="54" cy="8" r="7"/><circle cx="62" cy="11" r="6.5"/><circle cx="69" cy="14" r="5.5"/><circle cx="75" cy="18" r="4.5"/><polygon points="2,26 2,19 5,19 12,14 20,10 29,12 37,8 46,10 54,8 62,11 69,14 75,18 78,18 78,26"/></g><rect x="0" y="22" width="80" height="4" fill="#f2f7ff" fill-opacity="0.9"/><rect x="0" y="26" width="80" height="2.5" fill="#06123a" fill-opacity="0.85"/></g></g>
<g opacity="0.45"><g transform="translate(1195.0,550) scale(0.625,1)"><g fill="#06123a" fill-opacity="0.9"><circle cx="5" cy="19" r="6.5"/><circle cx="12" cy="14" r="8"/><circle cx="20" cy="10" r="8.5"/><circle cx="29" cy="12" r="8"/><circle cx="37" cy="8" r="9"/><circle cx="46" cy="10" r="8.5"/><circle cx="54" cy="8" r="9"/><circle cx="62" cy="11" r="8.5"/><circle cx="69" cy="14" r="7.5"/><circle cx="75" cy="18" r="6.5"/></g><g fill="url(#cuag)"><circle cx="5" cy="19" r="4.5"/><circle cx="12" cy="14" r="6"/><circle cx="20" cy="10" r="6.5"/><circle cx="29" cy="12" r="6"/><circle cx="37" cy="8" r="7"/><circle cx="46" cy="10" r="6.5"/><circle cx="54" cy="8" r="7"/><circle cx="62" cy="11" r="6.5"/><circle cx="69" cy="14" r="5.5"/><circle cx="75" cy="18" r="4.5"/><polygon points="2,26 2,19 5,19 12,14 20,10 29,12 37,8 46,10 54,8 62,11 69,14 75,18 78,18 78,26"/></g><rect x="0" y="22" width="80" height="4" fill="#f2f7ff" fill-opacity="0.9"/><rect x="0" y="26" width="80" height="2.5" fill="#06123a" fill-opacity="0.85"/></g></g>
<g opacity="0.9"><g transform="translate(1245.0,550) scale(0.688,1)"><g fill="#06123a" fill-opacity="0.9"><circle cx="5" cy="19" r="6.5"/><circle cx="12" cy="14" r="8"/><circle cx="20" cy="10" r="8.5"/><circle cx="29" cy="12" r="8"/><circle cx="37" cy="8" r="9"/><circle cx="46" cy="10" r="8.5"/><circle cx="54" cy="8" r="9"/><circle cx="62" cy="11" r="8.5"/><circle cx="69" cy="14" r="7.5"/><circle cx="75" cy="18" r="6.5"/></g><g fill="url(#cuag)"><circle cx="5" cy="19" r="4.5"/><circle cx="12" cy="14" r="6"/><circle cx="20" cy="10" r="6.5"/><circle cx="29" cy="12" r="6"/><circle cx="37" cy="8" r="7"/><circle cx="46" cy="10" r="6.5"/><circle cx="54" cy="8" r="7"/><circle cx="62" cy="11" r="6.5"/><circle cx="69" cy="14" r="5.5"/><circle cx="75" cy="18" r="4.5"/><polygon points="2,26 2,19 5,19 12,14 20,10 29,12 37,8 46,10 54,8 62,11 69,14 75,18 78,18 78,26"/></g><rect x="0" y="22" width="80" height="4" fill="#f2f7ff" fill-opacity="0.9"/><rect x="0" y="26" width="80" height="2.5" fill="#06123a" fill-opacity="0.85"/></g></g>
<g opacity="0.9"><g transform="translate(0.0,581) scale(1.231,1)"><g fill="#06123a" fill-opacity="0.9"><circle cx="5" cy="19" r="6.5"/><circle cx="12" cy="14" r="8"/><circle cx="20" cy="10" r="8.5"/><circle cx="29" cy="12" r="8"/><circle cx="37" cy="8" r="9"/><circle cx="46" cy="10" r="8.5"/><circle cx="54" cy="8" r="9"/><circle cx="62" cy="11" r="8.5"/><circle cx="69" cy="14" r="7.5"/><circle cx="75" cy="18" r="6.5"/></g><g fill="url(#cucg)"><circle cx="5" cy="19" r="4.5"/><circle cx="12" cy="14" r="6"/><circle cx="20" cy="10" r="6.5"/><circle cx="29" cy="12" r="6"/><circle cx="37" cy="8" r="7"/><circle cx="46" cy="10" r="6.5"/><circle cx="54" cy="8" r="7"/><circle cx="62" cy="11" r="6.5"/><circle cx="69" cy="14" r="5.5"/><circle cx="75" cy="18" r="4.5"/><polygon points="2,26 2,19 5,19 12,14 20,10 29,12 37,8 46,10 54,8 62,11 69,14 75,18 78,18 78,26"/></g><rect x="0" y="22" width="80" height="4" fill="#f2f7ff" fill-opacity="0.9"/><rect x="0" y="26" width="80" height="2.5" fill="#06123a" fill-opacity="0.85"/></g><g transform="translate(98.5,581) scale(1.231,1)"><g fill="#06123a" fill-opacity="0.9"><circle cx="5" cy="19" r="6.5"/><circle cx="12" cy="14" r="8"/><circle cx="20" cy="10" r="8.5"/><circle cx="29" cy="12" r="8"/><circle cx="37" cy="8" r="9"/><circle cx="46" cy="10" r="8.5"/><circle cx="54" cy="8" r="9"/><circle cx="62" cy="11" r="8.5"/><circle cx="69" cy="14" r="7.5"/><circle cx="75" cy="18" r="6.5"/></g><g fill="url(#cucg)"><circle cx="5" cy="19" r="4.5"/><circle cx="12" cy="14" r="6"/><circle cx="20" cy="10" r="6.5"/><circle cx="29" cy="12" r="6"/><circle cx="37" cy="8" r="7"/><circle cx="46" cy="10" r="6.5"/><circle cx="54" cy="8" r="7"/><circle cx="62" cy="11" r="6.5"/><circle cx="69" cy="14" r="5.5"/><circle cx="75" cy="18" r="4.5"/><polygon points="2,26 2,19 5,19 12,14 20,10 29,12 37,8 46,10 54,8 62,11 69,14 75,18 78,18 78,26"/></g><rect x="0" y="22" width="80" height="4" fill="#f2f7ff" fill-opacity="0.9"/><rect x="0" y="26" width="80" height="2.5" fill="#06123a" fill-opacity="0.85"/></g></g>
<g opacity="0.15"><g transform="translate(430.0,581) scale(0.750,1)"><g fill="#06123a" fill-opacity="0.9"><circle cx="5" cy="19" r="6.5"/><circle cx="12" cy="14" r="8"/><circle cx="20" cy="10" r="8.5"/><circle cx="29" cy="12" r="8"/><circle cx="37" cy="8" r="9"/><circle cx="46" cy="10" r="8.5"/><circle cx="54" cy="8" r="9"/><circle cx="62" cy="11" r="8.5"/><circle cx="69" cy="14" r="7.5"/><circle cx="75" cy="18" r="6.5"/></g><g fill="url(#cucg)"><circle cx="5" cy="19" r="4.5"/><circle cx="12" cy="14" r="6"/><circle cx="20" cy="10" r="6.5"/><circle cx="29" cy="12" r="6"/><circle cx="37" cy="8" r="7"/><circle cx="46" cy="10" r="6.5"/><circle cx="54" cy="8" r="7"/><circle cx="62" cy="11" r="6.5"/><circle cx="69" cy="14" r="5.5"/><circle cx="75" cy="18" r="4.5"/><polygon points="2,26 2,19 5,19 12,14 20,10 29,12 37,8 46,10 54,8 62,11 69,14 75,18 78,18 78,26"/></g><rect x="0" y="22" width="80" height="4" fill="#f2f7ff" fill-opacity="0.9"/><rect x="0" y="26" width="80" height="2.5" fill="#06123a" fill-opacity="0.85"/></g></g>
<g opacity="0.88"><g transform="translate(685.0,581) scale(1.106,1)"><g fill="#06123a" fill-opacity="0.9"><circle cx="5" cy="19" r="6.5"/><circle cx="12" cy="14" r="8"/><circle cx="20" cy="10" r="8.5"/><circle cx="29" cy="12" r="8"/><circle cx="37" cy="8" r="9"/><circle cx="46" cy="10" r="8.5"/><circle cx="54" cy="8" r="9"/><circle cx="62" cy="11" r="8.5"/><circle cx="69" cy="14" r="7.5"/><circle cx="75" cy="18" r="6.5"/></g><g fill="url(#cucg)"><circle cx="5" cy="19" r="4.5"/><circle cx="12" cy="14" r="6"/><circle cx="20" cy="10" r="6.5"/><circle cx="29" cy="12" r="6"/><circle cx="37" cy="8" r="7"/><circle cx="46" cy="10" r="6.5"/><circle cx="54" cy="8" r="7"/><circle cx="62" cy="11" r="6.5"/><circle cx="69" cy="14" r="5.5"/><circle cx="75" cy="18" r="4.5"/><polygon points="2,26 2,19 5,19 12,14 20,10 29,12 37,8 46,10 54,8 62,11 69,14 75,18 78,18 78,26"/></g><rect x="0" y="22" width="80" height="4" fill="#f2f7ff" fill-opacity="0.9"/><rect x="0" y="26" width="80" height="2.5" fill="#06123a" fill-opacity="0.85"/></g><g transform="translate(773.5,581) scale(1.106,1)"><g fill="#06123a" fill-opacity="0.9"><circle cx="5" cy="19" r="6.5"/><circle cx="12" cy="14" r="8"/><circle cx="20" cy="10" r="8.5"/><circle cx="29" cy="12" r="8"/><circle cx="37" cy="8" r="9"/><circle cx="46" cy="10" r="8.5"/><circle cx="54" cy="8" r="9"/><circle cx="62" cy="11" r="8.5"/><circle cx="69" cy="14" r="7.5"/><circle cx="75" cy="18" r="6.5"/></g><g fill="url(#cucg)"><circle cx="5" cy="19" r="4.5"/><circle cx="12" cy="14" r="6"/><circle cx="20" cy="10" r="6.5"/><circle cx="29" cy="12" r="6"/><circle cx="37" cy="8" r="7"/><circle cx="46" cy="10" r="6.5"/><circle cx="54" cy="8" r="7"/><circle cx="62" cy="11" r="6.5"/><circle cx="69" cy="14" r="5.5"/><circle cx="75" cy="18" r="4.5"/><polygon points="2,26 2,19 5,19 12,14 20,10 29,12 37,8 46,10 54,8 62,11 69,14 75,18 78,18 78,26"/></g><rect x="0" y="22" width="80" height="4" fill="#f2f7ff" fill-opacity="0.9"/><rect x="0" y="26" width="80" height="2.5" fill="#06123a" fill-opacity="0.85"/></g></g>
<g opacity="0.88"><g transform="translate(885.0,581) scale(1.038,1)"><g fill="#06123a" fill-opacity="0.9"><circle cx="5" cy="19" r="6.5"/><circle cx="12" cy="14" r="8"/><circle cx="20" cy="10" r="8.5"/><circle cx="29" cy="12" r="8"/><circle cx="37" cy="8" r="9"/><circle cx="46" cy="10" r="8.5"/><circle cx="54" cy="8" r="9"/><circle cx="62" cy="11" r="8.5"/><circle cx="69" cy="14" r="7.5"/><circle cx="75" cy="18" r="6.5"/></g><g fill="url(#cucg)"><circle cx="5" cy="19" r="4.5"/><circle cx="12" cy="14" r="6"/><circle cx="20" cy="10" r="6.5"/><circle cx="29" cy="12" r="6"/><circle cx="37" cy="8" r="7"/><circle cx="46" cy="10" r="6.5"/><circle cx="54" cy="8" r="7"/><circle cx="62" cy="11" r="6.5"/><circle cx="69" cy="14" r="5.5"/><circle cx="75" cy="18" r="4.5"/><polygon points="2,26 2,19 5,19 12,14 20,10 29,12 37,8 46,10 54,8 62,11 69,14 75,18 78,18 78,26"/></g><rect x="0" y="22" width="80" height="4" fill="#f2f7ff" fill-opacity="0.9"/><rect x="0" y="26" width="80" height="2.5" fill="#06123a" fill-opacity="0.85"/></g><g transform="translate(968.0,581) scale(1.038,1)"><g fill="#06123a" fill-opacity="0.9"><circle cx="5" cy="19" r="6.5"/><circle cx="12" cy="14" r="8"/><circle cx="20" cy="10" r="8.5"/><circle cx="29" cy="12" r="8"/><circle cx="37" cy="8" r="9"/><circle cx="46" cy="10" r="8.5"/><circle cx="54" cy="8" r="9"/><circle cx="62" cy="11" r="8.5"/><circle cx="69" cy="14" r="7.5"/><circle cx="75" cy="18" r="6.5"/></g><g fill="url(#cucg)"><circle cx="5" cy="19" r="4.5"/><circle cx="12" cy="14" r="6"/><circle cx="20" cy="10" r="6.5"/><circle cx="29" cy="12" r="6"/><circle cx="37" cy="8" r="7"/><circle cx="46" cy="10" r="6.5"/><circle cx="54" cy="8" r="7"/><circle cx="62" cy="11" r="6.5"/><circle cx="69" cy="14" r="5.5"/><circle cx="75" cy="18" r="4.5"/><polygon points="2,26 2,19 5,19 12,14 20,10 29,12 37,8 46,10 54,8 62,11 69,14 75,18 78,18 78,26"/></g><rect x="0" y="22" width="80" height="4" fill="#f2f7ff" fill-opacity="0.9"/><rect x="0" y="26" width="80" height="2.5" fill="#06123a" fill-opacity="0.85"/></g><g transform="translate(1051.0,581) scale(1.038,1)"><g fill="#06123a" fill-opacity="0.9"><circle cx="5" cy="19" r="6.5"/><circle cx="12" cy="14" r="8"/><circle cx="20" cy="10" r="8.5"/><circle cx="29" cy="12" r="8"/><circle cx="37" cy="8" r="9"/><circle cx="46" cy="10" r="8.5"/><circle cx="54" cy="8" r="9"/><circle cx="62" cy="11" r="8.5"/><circle cx="69" cy="14" r="7.5"/><circle cx="75" cy="18" r="6.5"/></g><g fill="url(#cucg)"><circle cx="5" cy="19" r="4.5"/><circle cx="12" cy="14" r="6"/><circle cx="20" cy="10" r="6.5"/><circle cx="29" cy="12" r="6"/><circle cx="37" cy="8" r="7"/><circle cx="46" cy="10" r="6.5"/><circle cx="54" cy="8" r="7"/><circle cx="62" cy="11" r="6.5"/><circle cx="69" cy="14" r="5.5"/><circle cx="75" cy="18" r="4.5"/><polygon points="2,26 2,19 5,19 12,14 20,10 29,12 37,8 46,10 54,8 62,11 69,14 75,18 78,18 78,26"/></g><rect x="0" y="22" width="80" height="4" fill="#f2f7ff" fill-opacity="0.9"/><rect x="0" y="26" width="80" height="2.5" fill="#06123a" fill-opacity="0.85"/></g><g transform="translate(1134.0,581) scale(1.038,1)"><g fill="#06123a" fill-opacity="0.9"><circle cx="5" cy="19" r="6.5"/><circle cx="12" cy="14" r="8"/><circle cx="20" cy="10" r="8.5"/><circle cx="29" cy="12" r="8"/><circle cx="37" cy="8" r="9"/><circle cx="46" cy="10" r="8.5"/><circle cx="54" cy="8" r="9"/><circle cx="62" cy="11" r="8.5"/><circle cx="69" cy="14" r="7.5"/><circle cx="75" cy="18" r="6.5"/></g><g fill="url(#cucg)"><circle cx="5" cy="19" r="4.5"/><circle cx="12" cy="14" r="6"/><circle cx="20" cy="10" r="6.5"/><circle cx="29" cy="12" r="6"/><circle cx="37" cy="8" r="7"/><circle cx="46" cy="10" r="6.5"/><circle cx="54" cy="8" r="7"/><circle cx="62" cy="11" r="6.5"/><circle cx="69" cy="14" r="5.5"/><circle cx="75" cy="18" r="4.5"/><polygon points="2,26 2,19 5,19 12,14 20,10 29,12 37,8 46,10 54,8 62,11 69,14 75,18 78,18 78,26"/></g><rect x="0" y="22" width="80" height="4" fill="#f2f7ff" fill-opacity="0.9"/><rect x="0" y="26" width="80" height="2.5" fill="#06123a" fill-opacity="0.85"/></g><g transform="translate(1217.0,581) scale(1.038,1)"><g fill="#06123a" fill-opacity="0.9"><circle cx="5" cy="19" r="6.5"/><circle cx="12" cy="14" r="8"/><circle cx="20" cy="10" r="8.5"/><circle cx="29" cy="12" r="8"/><circle cx="37" cy="8" r="9"/><circle cx="46" cy="10" r="8.5"/><circle cx="54" cy="8" r="9"/><circle cx="62" cy="11" r="8.5"/><circle cx="69" cy="14" r="7.5"/><circle cx="75" cy="18" r="6.5"/></g><g fill="url(#cucg)"><circle cx="5" cy="19" r="4.5"/><circle cx="12" cy="14" r="6"/><circle cx="20" cy="10" r="6.5"/><circle cx="29" cy="12" r="6"/><circle cx="37" cy="8" r="7"/><circle cx="46" cy="10" r="6.5"/><circle cx="54" cy="8" r="7"/><circle cx="62" cy="11" r="6.5"/><circle cx="69" cy="14" r="5.5"/><circle cx="75" cy="18" r="4.5"/><polygon points="2,26 2,19 5,19 12,14 20,10 29,12 37,8 46,10 54,8 62,11 69,14 75,18 78,18 78,26"/></g><rect x="0" y="22" width="80" height="4" fill="#f2f7ff" fill-opacity="0.9"/><rect x="0" y="26" width="80" height="2.5" fill="#06123a" fill-opacity="0.85"/></g></g>
<g opacity="0.4"><g transform="translate(1300.0,581) scale(0.438,1)"><g fill="#06123a" fill-opacity="0.9"><circle cx="5" cy="19" r="6.5"/><circle cx="12" cy="14" r="8"/><circle cx="20" cy="10" r="8.5"/><circle cx="29" cy="12" r="8"/><circle cx="37" cy="8" r="9"/><circle cx="46" cy="10" r="8.5"/><circle cx="54" cy="8" r="9"/><circle cx="62" cy="11" r="8.5"/><circle cx="69" cy="14" r="7.5"/><circle cx="75" cy="18" r="6.5"/></g><g fill="url(#cucg)"><circle cx="5" cy="19" r="4.5"/><circle cx="12" cy="14" r="6"/><circle cx="20" cy="10" r="6.5"/><circle cx="29" cy="12" r="6"/><circle cx="37" cy="8" r="7"/><circle cx="46" cy="10" r="6.5"/><circle cx="54" cy="8" r="7"/><circle cx="62" cy="11" r="6.5"/><circle cx="69" cy="14" r="5.5"/><circle cx="75" cy="18" r="4.5"/><polygon points="2,26 2,19 5,19 12,14 20,10 29,12 37,8 46,10 54,8 62,11 69,14 75,18 78,18 78,26"/></g><rect x="0" y="22" width="80" height="4" fill="#f2f7ff" fill-opacity="0.9"/><rect x="0" y="26" width="80" height="2.5" fill="#06123a" fill-opacity="0.85"/></g></g>
<path transform="translate(5,620) rotate(28)" d="M0,-8.5 C2.2,-4.5 4.6,-1.5 4.6,2.2 A4.6,4.6 0 1 1 -4.6,2.2 C-4.6,-1.5 -2.2,-4.5 0,-8.5Z" fill="#5ee6fb" stroke="#06123a" stroke-width="2"/>
<path transform="translate(686,620.5) rotate(28)" d="M0,-8.5 C2.2,-4.5 4.6,-1.5 4.6,2.2 A4.6,4.6 0 1 1 -4.6,2.2 C-4.6,-1.5 -2.2,-4.5 0,-8.5Z" fill="#5ee6fb" stroke="#06123a" stroke-width="2"/>
<path transform="translate(717,620.5) rotate(28)" d="M0,-8.5 C2.2,-4.5 4.6,-1.5 4.6,2.2 A4.6,4.6 0 1 1 -4.6,2.2 C-4.6,-1.5 -2.2,-4.5 0,-8.5Z" fill="#5ee6fb" stroke="#06123a" stroke-width="2"/>
<path transform="translate(748,620.5) rotate(28)" d="M0,-8.5 C2.2,-4.5 4.6,-1.5 4.6,2.2 A4.6,4.6 0 1 1 -4.6,2.2 C-4.6,-1.5 -2.2,-4.5 0,-8.5Z" fill="#5ee6fb" stroke="#06123a" stroke-width="2"/>
<path transform="translate(811,620.5) rotate(28)" d="M0,-8.5 C2.2,-4.5 4.6,-1.5 4.6,2.2 A4.6,4.6 0 1 1 -4.6,2.2 C-4.6,-1.5 -2.2,-4.5 0,-8.5Z" fill="#5ee6fb" stroke="#06123a" stroke-width="2"/>
<path transform="translate(842,620.5) rotate(28)" d="M0,-8.5 C2.2,-4.5 4.6,-1.5 4.6,2.2 A4.6,4.6 0 1 1 -4.6,2.2 C-4.6,-1.5 -2.2,-4.5 0,-8.5Z" fill="#5ee6fb" stroke="#06123a" stroke-width="2"/>
<path transform="translate(872,620.5) rotate(28)" d="M0,-8.5 C2.2,-4.5 4.6,-1.5 4.6,2.2 A4.6,4.6 0 1 1 -4.6,2.2 C-4.6,-1.5 -2.2,-4.5 0,-8.5Z" fill="#5ee6fb" stroke="#06123a" stroke-width="2"/>
<path transform="translate(903,620.5) rotate(28)" d="M0,-8.5 C2.2,-4.5 4.6,-1.5 4.6,2.2 A4.6,4.6 0 1 1 -4.6,2.2 C-4.6,-1.5 -2.2,-4.5 0,-8.5Z" fill="#5ee6fb" stroke="#06123a" stroke-width="2"/>
<path transform="translate(964,620.5) rotate(28)" d="M0,-8.5 C2.2,-4.5 4.6,-1.5 4.6,2.2 A4.6,4.6 0 1 1 -4.6,2.2 C-4.6,-1.5 -2.2,-4.5 0,-8.5Z" fill="#5ee6fb" stroke="#06123a" stroke-width="2"/>
<path transform="translate(995,620.5) rotate(28)" d="M0,-8.5 C2.2,-4.5 4.6,-1.5 4.6,2.2 A4.6,4.6 0 1 1 -4.6,2.2 C-4.6,-1.5 -2.2,-4.5 0,-8.5Z" fill="#5ee6fb" stroke="#06123a" stroke-width="2"/>
<path transform="translate(1027,620.5) rotate(28)" d="M0,-8.5 C2.2,-4.5 4.6,-1.5 4.6,2.2 A4.6,4.6 0 1 1 -4.6,2.2 C-4.6,-1.5 -2.2,-4.5 0,-8.5Z" fill="#5ee6fb" stroke="#06123a" stroke-width="2"/>
<path transform="translate(1058,620.5) rotate(28)" d="M0,-8.5 C2.2,-4.5 4.6,-1.5 4.6,2.2 A4.6,4.6 0 1 1 -4.6,2.2 C-4.6,-1.5 -2.2,-4.5 0,-8.5Z" fill="#5ee6fb" stroke="#06123a" stroke-width="2"/>
<path transform="translate(1089,620.5) rotate(28)" d="M0,-8.5 C2.2,-4.5 4.6,-1.5 4.6,2.2 A4.6,4.6 0 1 1 -4.6,2.2 C-4.6,-1.5 -2.2,-4.5 0,-8.5Z" fill="#5ee6fb" stroke="#06123a" stroke-width="2"/>
<path transform="translate(1120,620.5) rotate(28)" d="M0,-8.5 C2.2,-4.5 4.6,-1.5 4.6,2.2 A4.6,4.6 0 1 1 -4.6,2.2 C-4.6,-1.5 -2.2,-4.5 0,-8.5Z" fill="#5ee6fb" stroke="#06123a" stroke-width="2"/>
<path transform="translate(1152,620.5) rotate(28)" d="M0,-8.5 C2.2,-4.5 4.6,-1.5 4.6,2.2 A4.6,4.6 0 1 1 -4.6,2.2 C-4.6,-1.5 -2.2,-4.5 0,-8.5Z" fill="#5ee6fb" stroke="#06123a" stroke-width="2"/>
<path transform="translate(1183,620.5) rotate(28)" d="M0,-8.5 C2.2,-4.5 4.6,-1.5 4.6,2.2 A4.6,4.6 0 1 1 -4.6,2.2 C-4.6,-1.5 -2.2,-4.5 0,-8.5Z" fill="#5ee6fb" stroke="#06123a" stroke-width="2"/>
<path transform="translate(1213,620.5) rotate(28)" d="M0,-8.5 C2.2,-4.5 4.6,-1.5 4.6,2.2 A4.6,4.6 0 1 1 -4.6,2.2 C-4.6,-1.5 -2.2,-4.5 0,-8.5Z" fill="#5ee6fb" stroke="#06123a" stroke-width="2"/>
<path transform="translate(698,635) rotate(28)" d="M0,-8.5 C2.2,-4.5 4.6,-1.5 4.6,2.2 A4.6,4.6 0 1 1 -4.6,2.2 C-4.6,-1.5 -2.2,-4.5 0,-8.5Z" fill="#5ee6fb" stroke="#06123a" stroke-width="2"/>
<path transform="translate(729,635) rotate(28)" d="M0,-8.5 C2.2,-4.5 4.6,-1.5 4.6,2.2 A4.6,4.6 0 1 1 -4.6,2.2 C-4.6,-1.5 -2.2,-4.5 0,-8.5Z" fill="#5ee6fb" stroke="#06123a" stroke-width="2"/>
<path transform="translate(760,635) rotate(28)" d="M0,-8.5 C2.2,-4.5 4.6,-1.5 4.6,2.2 A4.6,4.6 0 1 1 -4.6,2.2 C-4.6,-1.5 -2.2,-4.5 0,-8.5Z" fill="#5ee6fb" stroke="#06123a" stroke-width="2"/>
<path transform="translate(822,635) rotate(28)" d="M0,-8.5 C2.2,-4.5 4.6,-1.5 4.6,2.2 A4.6,4.6 0 1 1 -4.6,2.2 C-4.6,-1.5 -2.2,-4.5 0,-8.5Z" fill="#5ee6fb" stroke="#06123a" stroke-width="2"/>
<path transform="translate(853,635) rotate(28)" d="M0,-8.5 C2.2,-4.5 4.6,-1.5 4.6,2.2 A4.6,4.6 0 1 1 -4.6,2.2 C-4.6,-1.5 -2.2,-4.5 0,-8.5Z" fill="#5ee6fb" stroke="#06123a" stroke-width="2"/>
<path transform="translate(883,635) rotate(28)" d="M0,-8.5 C2.2,-4.5 4.6,-1.5 4.6,2.2 A4.6,4.6 0 1 1 -4.6,2.2 C-4.6,-1.5 -2.2,-4.5 0,-8.5Z" fill="#5ee6fb" stroke="#06123a" stroke-width="2"/>
<path transform="translate(915,635) rotate(28)" d="M0,-8.5 C2.2,-4.5 4.6,-1.5 4.6,2.2 A4.6,4.6 0 1 1 -4.6,2.2 C-4.6,-1.5 -2.2,-4.5 0,-8.5Z" fill="#5ee6fb" stroke="#06123a" stroke-width="2"/>
<path transform="translate(975,635) rotate(28)" d="M0,-8.5 C2.2,-4.5 4.6,-1.5 4.6,2.2 A4.6,4.6 0 1 1 -4.6,2.2 C-4.6,-1.5 -2.2,-4.5 0,-8.5Z" fill="#5ee6fb" stroke="#06123a" stroke-width="2"/>
<path transform="translate(1006,635) rotate(28)" d="M0,-8.5 C2.2,-4.5 4.6,-1.5 4.6,2.2 A4.6,4.6 0 1 1 -4.6,2.2 C-4.6,-1.5 -2.2,-4.5 0,-8.5Z" fill="#5ee6fb" stroke="#06123a" stroke-width="2"/>
<path transform="translate(1037,635) rotate(28)" d="M0,-8.5 C2.2,-4.5 4.6,-1.5 4.6,2.2 A4.6,4.6 0 1 1 -4.6,2.2 C-4.6,-1.5 -2.2,-4.5 0,-8.5Z" fill="#5ee6fb" stroke="#06123a" stroke-width="2"/>
<path transform="translate(1068,635) rotate(28)" d="M0,-8.5 C2.2,-4.5 4.6,-1.5 4.6,2.2 A4.6,4.6 0 1 1 -4.6,2.2 C-4.6,-1.5 -2.2,-4.5 0,-8.5Z" fill="#5ee6fb" stroke="#06123a" stroke-width="2"/>
<path transform="translate(1098,635) rotate(28)" d="M0,-8.5 C2.2,-4.5 4.6,-1.5 4.6,2.2 A4.6,4.6 0 1 1 -4.6,2.2 C-4.6,-1.5 -2.2,-4.5 0,-8.5Z" fill="#5ee6fb" stroke="#06123a" stroke-width="2"/>
<path transform="translate(1129,635) rotate(28)" d="M0,-8.5 C2.2,-4.5 4.6,-1.5 4.6,2.2 A4.6,4.6 0 1 1 -4.6,2.2 C-4.6,-1.5 -2.2,-4.5 0,-8.5Z" fill="#5ee6fb" stroke="#06123a" stroke-width="2"/>
<path transform="translate(1161,635) rotate(28)" d="M0,-8.5 C2.2,-4.5 4.6,-1.5 4.6,2.2 A4.6,4.6 0 1 1 -4.6,2.2 C-4.6,-1.5 -2.2,-4.5 0,-8.5Z" fill="#5ee6fb" stroke="#06123a" stroke-width="2"/>
<path transform="translate(1192,635) rotate(28)" d="M0,-8.5 C2.2,-4.5 4.6,-1.5 4.6,2.2 A4.6,4.6 0 1 1 -4.6,2.2 C-4.6,-1.5 -2.2,-4.5 0,-8.5Z" fill="#5ee6fb" stroke="#06123a" stroke-width="2"/>
<rect x="639" y="1051" width="22" height="6" fill="#050f30" fill-opacity="0.75"/>
<rect x="659" y="1048" width="10" height="9" fill="#050f30" fill-opacity="0.75"/>
<rect x="667" y="1040" width="24" height="17" fill="#050f30" fill-opacity="0.75"/>
<rect x="689" y="1036" width="30" height="21" fill="#050f30" fill-opacity="0.75"/>
<rect x="717" y="1039" width="24" height="18" fill="#050f30" fill-opacity="0.75"/>
<rect x="737" y="1009" width="22" height="48" fill="#050f30" fill-opacity="0.75"/>
<rect x="757" y="1013" width="8" height="44" fill="#050f30" fill-opacity="0.75"/>
<rect x="761" y="985" width="16" height="72" fill="#050f30" fill-opacity="0.75"/>
<rect x="775" y="1048" width="14" height="9" fill="#050f30" fill-opacity="0.75"/>
<rect x="805" y="1047" width="18" height="10" fill="#050f30" fill-opacity="0.75"/>
<rect x="818" y="1024" width="17" height="33" fill="#050f30" fill-opacity="0.75"/>
<rect x="829" y="1015" width="32" height="42" fill="#050f30" fill-opacity="0.75"/>
<rect x="855" y="1026" width="39" height="31" fill="#050f30" fill-opacity="0.75"/>
<rect x="889" y="1040" width="21" height="17" fill="#050f30" fill-opacity="0.75"/>
<rect x="904" y="1047" width="26" height="10" fill="#050f30" fill-opacity="0.75"/>
<rect x="955" y="1047" width="21" height="10" fill="#050f30" fill-opacity="0.75"/>
<rect x="971" y="1035" width="28" height="22" fill="#050f30" fill-opacity="0.75"/>
<rect x="993" y="1018" width="16" height="39" fill="#050f30" fill-opacity="0.75"/>
<rect x="1005" y="1007" width="16" height="50" fill="#050f30" fill-opacity="0.75"/>
<rect x="1017" y="1018" width="30" height="39" fill="#050f30" fill-opacity="0.75"/>
<rect x="1051" y="1018" width="16" height="39" fill="#050f30" fill-opacity="0.75"/>
<rect x="1063" y="958" width="41" height="99" fill="#050f30" fill-opacity="0.75"/>
<rect x="1075" y="916" width="17" height="141" fill="#050f30" fill-opacity="0.75"/>
<rect x="1099" y="991" width="17" height="66" fill="#050f30" fill-opacity="0.75"/>
<rect x="1111" y="1018" width="28" height="39" fill="#050f30" fill-opacity="0.75"/>
<rect x="1133" y="1029" width="18" height="28" fill="#050f30" fill-opacity="0.75"/>
<rect x="1152" y="1035" width="23" height="22" fill="#050f30" fill-opacity="0.75"/>
<rect x="1169" y="1029" width="14" height="28" fill="#050f30" fill-opacity="0.75"/>
<rect x="1178" y="1018" width="21" height="39" fill="#050f30" fill-opacity="0.75"/>
<rect x="1193" y="1029" width="16" height="28" fill="#050f30" fill-opacity="0.75"/>
<rect x="1203" y="1048" width="38" height="9" fill="#050f30" fill-opacity="0.75"/>
<rect x="740" y="1013" width="17" height="44" fill="#1a84ff"/>
<rect x="757" y="1017" width="6" height="40" fill="#1a84ff"/>
<rect x="763" y="1005" width="12" height="52" fill="#1a84ff"/>
<rect x="821" y="1028" width="11" height="29" fill="#1a84ff"/>
<rect x="832" y="1019" width="26" height="38" fill="#1a84ff"/>
<rect x="858" y="1030" width="33" height="27" fill="#1a84ff"/>
<rect x="996" y="1022" width="12" height="35" fill="#1a84ff"/>
<rect x="1008" y="1011" width="9" height="46" fill="#1a84ff"/>
<rect x="1017" y="1022" width="26" height="35" fill="#1a84ff"/>
<rect x="1054" y="1022" width="12" height="35" fill="#1a84ff"/>
<rect x="1066" y="1003" width="35" height="54" fill="#1a84ff"/>
<rect x="1101" y="1013" width="12" height="44" fill="#1a84ff"/>
<rect x="1113" y="1022" width="23" height="35" fill="#1a84ff"/>
<rect x="1136" y="1033" width="11" height="24" fill="#1a84ff"/>
<rect x="1172" y="1033" width="9" height="24" fill="#1a84ff"/>
<rect x="1181" y="1022" width="15" height="35" fill="#1a84ff"/>
<rect x="1196" y="1033" width="10" height="24" fill="#1a84ff"/>
<rect x="646" y="1054" width="22" height="3" fill="#f6bccd"/>
<rect x="668" y="1044" width="22" height="13" fill="#f6bccd"/>
<rect x="690" y="1040" width="28" height="17" fill="#f6bccd"/>
<rect x="718" y="1043" width="22" height="14" fill="#f6bccd"/>
<rect x="740" y="1042" width="36" height="15" fill="#f6bccd"/>
<rect x="776" y="1052" width="10" height="5" fill="#f6bccd"/>
<rect x="810" y="1051" width="11" height="6" fill="#f6bccd"/>
<rect x="821" y="1041" width="70" height="16" fill="#f6bccd"/>
<rect x="891" y="1044" width="16" height="13" fill="#f6bccd"/>
<rect x="907" y="1051" width="20" height="6" fill="#f6bccd"/>
<rect x="961" y="1051" width="14" height="6" fill="#f6bccd"/>
<rect x="975" y="1045" width="10" height="12" fill="#f6bccd"/>
<rect x="985" y="1039" width="58" height="18" fill="#f6bccd"/>
<rect x="1054" y="1039" width="93" height="18" fill="#f6bccd"/>
<rect x="1155" y="1039" width="51" height="18" fill="#f6bccd"/>
<rect x="1206" y="1052" width="33" height="5" fill="#f6bccd"/>
<rect x="1066" y="1003" width="35" height="20" fill="#1464d8"/>
<rect x="763" y="989" width="12" height="15" fill="#10c010"/>
<rect x="1066" y="962" width="35" height="41" fill="#10c010"/>
<rect x="1078" y="922" width="11" height="40" fill="#28c81a"/>
<rect x="1101" y="995" width="12" height="12" fill="#10c010"/>
<rect x="0" y="1012" width="13" height="45" rx="2" fill="#050f30" fill-opacity="0.6"/>
<rect x="2.5" y="1039" width="7.5" height="18" fill="#f6bccd"/>
<rect x="2.5" y="1020" width="7.5" height="19" fill="#1a84ff"/>
<rect x="3.5" y="1015" width="5.5" height="5" fill="#10c010"/>
<rect x="18" y="1053" width="22" height="4" fill="#f6bccd" fill-opacity="0.18"/>
<rect x="240.6" y="386" width="3" height="309" fill="#9aa8d0" fill-opacity="0.38"/>
<rect x="239.1" y="695" width="6" height="290" fill="#061238" fill-opacity="0.5"/>
<rect x="240.6" y="695" width="3" height="290" fill="#c0c8e0" fill-opacity="0.8"/>
<rect x="240.6" y="985" width="3" height="72" fill="#c0c8e0" fill-opacity="0.55"/>
<rect x="240.6" y="1057" width="3" height="127" fill="#9aa8d0" fill-opacity="0.45"/>
<rect x="240.6" y="1184" width="3" height="125" fill="#9aa8d0" fill-opacity="0.2"/>
<rect x="519.9" y="386" width="3" height="309" fill="#9aa8d0" fill-opacity="0.38"/>
<rect x="518.4" y="695" width="6" height="290" fill="#061238" fill-opacity="0.5"/>
<rect x="519.9" y="695" width="3" height="290" fill="#c0c8e0" fill-opacity="0.8"/>
<rect x="519.9" y="985" width="3" height="72" fill="#c0c8e0" fill-opacity="0.55"/>
<rect x="519.9" y="1057" width="3" height="127" fill="#9aa8d0" fill-opacity="0.45"/>
<rect x="519.9" y="1184" width="3" height="125" fill="#9aa8d0" fill-opacity="0.2"/>
<rect x="799.2" y="386" width="3" height="309" fill="#9aa8d0" fill-opacity="0.38"/>
<rect x="797.7" y="695" width="6" height="290" fill="#061238" fill-opacity="0.5"/>
<rect x="799.2" y="695" width="3" height="290" fill="#c0c8e0" fill-opacity="0.8"/>
<rect x="799.2" y="985" width="3" height="72" fill="#c0c8e0" fill-opacity="0.55"/>
<rect x="799.2" y="1057" width="3" height="127" fill="#9aa8d0" fill-opacity="0.45"/>
<rect x="799.2" y="1184" width="3" height="125" fill="#9aa8d0" fill-opacity="0.2"/>
<rect x="1078.5" y="386" width="3" height="309" fill="#9aa8d0" fill-opacity="0.38"/>
<rect x="1077.0" y="695" width="6" height="290" fill="#061238" fill-opacity="0.5"/>
<rect x="1078.5" y="695" width="3" height="290" fill="#c0c8e0" fill-opacity="0.8"/>
<rect x="1078.5" y="985" width="3" height="72" fill="#c0c8e0" fill-opacity="0.55"/>
<rect x="1078.5" y="1057" width="3" height="127" fill="#9aa8d0" fill-opacity="0.45"/>
<rect x="1078.5" y="1184" width="3" height="125" fill="#9aa8d0" fill-opacity="0.2"/>
<rect x="1357.8" y="386" width="3" height="309" fill="#9aa8d0" fill-opacity="0.38"/>
<rect x="1356.3" y="695" width="6" height="290" fill="#061238" fill-opacity="0.5"/>
<rect x="1357.8" y="695" width="3" height="290" fill="#c0c8e0" fill-opacity="0.8"/>
<rect x="1357.8" y="985" width="3" height="72" fill="#c0c8e0" fill-opacity="0.55"/>
<rect x="1357.8" y="1057" width="3" height="127" fill="#9aa8d0" fill-opacity="0.45"/>
<rect x="1357.8" y="1184" width="3" height="125" fill="#9aa8d0" fill-opacity="0.2"/>
<rect x="1637.1" y="386" width="3" height="309" fill="#9aa8d0" fill-opacity="0.38"/>
<rect x="1635.6" y="695" width="6" height="290" fill="#061238" fill-opacity="0.5"/>
<rect x="1637.1" y="695" width="3" height="290" fill="#c0c8e0" fill-opacity="0.8"/>
<rect x="1637.1" y="985" width="3" height="72" fill="#c0c8e0" fill-opacity="0.55"/>
<rect x="1637.1" y="1057" width="3" height="127" fill="#9aa8d0" fill-opacity="0.45"/>
<rect x="1637.1" y="1184" width="3" height="125" fill="#9aa8d0" fill-opacity="0.2"/>
<rect x="1916.4" y="386" width="3" height="309" fill="#9aa8d0" fill-opacity="0.38"/>
<rect x="1914.9" y="695" width="6" height="290" fill="#061238" fill-opacity="0.5"/>
<rect x="1916.4" y="695" width="3" height="290" fill="#c0c8e0" fill-opacity="0.8"/>
<rect x="1916.4" y="985" width="3" height="72" fill="#c0c8e0" fill-opacity="0.55"/>
<rect x="1916.4" y="1057" width="3" height="127" fill="#9aa8d0" fill-opacity="0.45"/>
<rect x="1916.4" y="1184" width="3" height="125" fill="#9aa8d0" fill-opacity="0.2"/>
<rect x="0" y="691" width="2024" height="8" fill="#061238" fill-opacity="0.55"/>
<rect x="0" y="693" width="2024" height="4" fill="#8c96b8"/>
<rect x="0" y="980" width="2024" height="8" fill="#061238" fill-opacity="0.55"/>
<rect x="0" y="982" width="2024" height="4" fill="#8c96b8"/>
<rect x="0" y="837.5" width="2024" height="9" fill="#061238" fill-opacity="0.7"/>
<rect x="0" y="840" width="2024" height="4.5" fill="#f4f4fa"/>
<line x1="0" y1="768" x2="2024" y2="768" stroke="#061238" stroke-opacity="0.55" stroke-width="8" stroke-dasharray="27.5 23.9" stroke-dashoffset="1"/>
<line x1="0" y1="768" x2="2024" y2="768" stroke="#a0a8c4" stroke-width="4" stroke-dasharray="25.5 25.9"/>
<line x1="0" y1="912" x2="2024" y2="912" stroke="#061238" stroke-opacity="0.55" stroke-width="8" stroke-dasharray="27.5 23.9" stroke-dashoffset="1"/>
<line x1="0" y1="912" x2="2024" y2="912" stroke="#a0a8c4" stroke-width="4" stroke-dasharray="25.5 25.9"/>
<path d="M0,838 C2.0,838.9 11.0,843.9 15,845 C19.0,846.1 26.5,846.0 30,846 C33.5,846.0 37.1,846.6 41,845 C44.9,843.4 51.1,842.0 59,834 C66.9,826.0 89.2,797.5 100,785 C110.8,772.5 132.9,746.5 140,740 C147.1,733.5 149.1,736.3 153,736 C156.9,735.7 165.0,737.3 169,738 C173.0,738.7 179.1,738.9 183,741 C186.9,743.1 193.7,748.7 198,754 C202.3,759.3 209.8,773.4 215,781 C220.2,788.6 231.4,803.9 237,811 C242.6,818.1 252.1,828.8 257,834 C261.9,839.2 268.8,846.4 274,850 C279.2,853.6 291.2,858.5 296,861 C300.8,863.5 306.7,868.5 310,869 C313.3,869.5 317.5,868.2 321,865 C324.5,861.8 332.0,853.3 336,845 C340.0,836.7 345.8,815.1 351,803 C356.2,790.9 368.5,764.8 375,754 C381.5,743.2 393.3,729.1 400,722 C406.7,714.9 419.0,703.0 425,701 C431.0,699.0 439.4,703.5 445,707 C450.6,710.5 462.1,720.5 467,727 C471.9,733.5 477.7,747.9 482,756 C486.3,764.1 494.7,780.0 499,788 C503.3,796.0 510.0,810.4 514,816 C518.0,821.6 525.0,826.9 529,830 C533.0,833.1 540.7,837.8 544,839 C547.3,840.2 550.7,836.9 554,839 C557.3,841.1 564.5,850.2 569,855 C573.5,859.8 583.7,872.5 588,875 C592.3,877.5 597.0,880.3 601,874 C605.0,867.7 613.7,838.1 618,828 C622.3,817.9 629.3,802.9 633,798 C636.7,793.1 642.8,791.0 646,791 C649.2,791.0 653.5,794.4 657,798 C660.5,801.6 668.7,813.7 672,818 C675.3,822.3 679.5,829.3 682,830 C684.5,830.7 688.1,821.9 691,823 C693.9,824.1 699.9,833.5 704,838 C708.1,842.5 717.1,851.7 722,857 C726.9,862.3 735.8,873.2 741,878 C746.2,882.8 756.5,890.2 761,893 C765.5,895.8 771.7,898.7 775,899 C778.3,899.3 782.9,896.2 786,895 C789.1,893.8 791.7,890.3 798,890 C804.3,889.7 825.0,891.9 833,893 C841.0,894.1 850.4,897.7 858,898 C865.6,898.3 881.9,897.9 890,895 C898.1,892.1 912.5,881.3 919,876 C925.5,870.7 933.5,862.2 939,855 C944.5,847.8 955.3,825.6 960,822 C964.7,818.4 969.5,824.9 974,828 C978.5,831.1 986.8,837.1 994,845 C1001.2,852.9 1020.1,878.7 1028,887 C1035.9,895.3 1046.3,902.6 1053,907 C1059.7,911.4 1071.3,916.7 1078,920 C1084.7,923.3 1095.3,928.7 1103,932 C1110.7,935.3 1127.2,943.5 1136,945 C1144.8,946.5 1159.9,947.1 1169,943 C1178.1,938.9 1194.1,922.3 1204,914 C1213.9,905.7 1233.5,888.9 1243,881 C1252.5,873.1 1268.7,857.1 1275,855 C1281.3,852.9 1284.4,860.1 1290,865 C1295.6,869.9 1309.4,884.9 1317,892 C1324.6,899.1 1338.3,912.4 1347,918 C1355.7,923.6 1373.1,929.3 1382,934 C1390.9,938.7 1405.1,954.9 1414,953 C1422.9,951.1 1439.8,933.1 1449,920 C1458.2,906.9 1473.5,870.1 1483,855 C1492.5,839.9 1510.4,816.3 1520,807 C1529.6,797.7 1546.1,785.8 1555,785 C1563.9,784.2 1578.7,791.9 1587,801 C1595.3,810.1 1607.4,839.4 1617,853 C1626.6,866.6 1648.9,892.1 1659,903 C1669.1,913.9 1683.5,936.1 1693,935 C1702.5,933.9 1721.3,909.3 1730,895 C1738.7,880.7 1748.7,845.1 1758,828 C1767.3,810.9 1792.3,775.9 1800,767 C1807.7,758.1 1811.6,762.6 1816,761 C1820.4,759.4 1829.0,755.1 1833,755 C1837.0,754.9 1841.5,757.5 1846,760 C1850.5,762.5 1860.9,766.8 1867,774 C1873.1,781.2 1885.6,804.5 1892,814 C1898.4,823.5 1908.2,836.7 1915,845 C1921.8,853.3 1935.3,868.7 1943,876 C1950.7,883.3 1964.3,900.9 1973,900 C1981.7,899.1 2000.4,877.7 2008,869 C2015.6,860.3 2027.1,839.5 2030,835" fill="none" stroke="#040f4c" stroke-width="11" stroke-linejoin="round" stroke-linecap="round"/>
<path d="M0,838 C2.0,838.9 11.0,843.9 15,845 C19.0,846.1 26.5,846.0 30,846 C33.5,846.0 37.1,846.6 41,845 C44.9,843.4 51.1,842.0 59,834 C66.9,826.0 89.2,797.5 100,785 C110.8,772.5 132.9,746.5 140,740 C147.1,733.5 149.1,736.3 153,736 C156.9,735.7 165.0,737.3 169,738 C173.0,738.7 179.1,738.9 183,741 C186.9,743.1 193.7,748.7 198,754 C202.3,759.3 209.8,773.4 215,781 C220.2,788.6 231.4,803.9 237,811 C242.6,818.1 252.1,828.8 257,834 C261.9,839.2 268.8,846.4 274,850 C279.2,853.6 291.2,858.5 296,861 C300.8,863.5 306.7,868.5 310,869 C313.3,869.5 317.5,868.2 321,865 C324.5,861.8 332.0,853.3 336,845 C340.0,836.7 345.8,815.1 351,803 C356.2,790.9 368.5,764.8 375,754 C381.5,743.2 393.3,729.1 400,722 C406.7,714.9 419.0,703.0 425,701 C431.0,699.0 439.4,703.5 445,707 C450.6,710.5 462.1,720.5 467,727 C471.9,733.5 477.7,747.9 482,756 C486.3,764.1 494.7,780.0 499,788 C503.3,796.0 510.0,810.4 514,816 C518.0,821.6 525.0,826.9 529,830 C533.0,833.1 540.7,837.8 544,839 C547.3,840.2 550.7,836.9 554,839 C557.3,841.1 564.5,850.2 569,855 C573.5,859.8 583.7,872.5 588,875 C592.3,877.5 597.0,880.3 601,874 C605.0,867.7 613.7,838.1 618,828 C622.3,817.9 629.3,802.9 633,798 C636.7,793.1 642.8,791.0 646,791 C649.2,791.0 653.5,794.4 657,798 C660.5,801.6 668.7,813.7 672,818 C675.3,822.3 679.5,829.3 682,830 C684.5,830.7 688.1,821.9 691,823 C693.9,824.1 699.9,833.5 704,838 C708.1,842.5 717.1,851.7 722,857 C726.9,862.3 735.8,873.2 741,878 C746.2,882.8 756.5,890.2 761,893 C765.5,895.8 771.7,898.7 775,899 C778.3,899.3 782.9,896.2 786,895 C789.1,893.8 791.7,890.3 798,890 C804.3,889.7 825.0,891.9 833,893 C841.0,894.1 850.4,897.7 858,898 C865.6,898.3 881.9,897.9 890,895 C898.1,892.1 912.5,881.3 919,876 C925.5,870.7 933.5,862.2 939,855 C944.5,847.8 955.3,825.6 960,822 C964.7,818.4 969.5,824.9 974,828 C978.5,831.1 986.8,837.1 994,845 C1001.2,852.9 1020.1,878.7 1028,887 C1035.9,895.3 1046.3,902.6 1053,907 C1059.7,911.4 1071.3,916.7 1078,920 C1084.7,923.3 1095.3,928.7 1103,932 C1110.7,935.3 1127.2,943.5 1136,945 C1144.8,946.5 1159.9,947.1 1169,943 C1178.1,938.9 1194.1,922.3 1204,914 C1213.9,905.7 1233.5,888.9 1243,881 C1252.5,873.1 1268.7,857.1 1275,855 C1281.3,852.9 1284.4,860.1 1290,865 C1295.6,869.9 1309.4,884.9 1317,892 C1324.6,899.1 1338.3,912.4 1347,918 C1355.7,923.6 1373.1,929.3 1382,934 C1390.9,938.7 1405.1,954.9 1414,953 C1422.9,951.1 1439.8,933.1 1449,920 C1458.2,906.9 1473.5,870.1 1483,855 C1492.5,839.9 1510.4,816.3 1520,807 C1529.6,797.7 1546.1,785.8 1555,785 C1563.9,784.2 1578.7,791.9 1587,801 C1595.3,810.1 1607.4,839.4 1617,853 C1626.6,866.6 1648.9,892.1 1659,903 C1669.1,913.9 1683.5,936.1 1693,935 C1702.5,933.9 1721.3,909.3 1730,895 C1738.7,880.7 1748.7,845.1 1758,828 C1767.3,810.9 1792.3,775.9 1800,767 C1807.7,758.1 1811.6,762.6 1816,761 C1820.4,759.4 1829.0,755.1 1833,755 C1837.0,754.9 1841.5,757.5 1846,760 C1850.5,762.5 1860.9,766.8 1867,774 C1873.1,781.2 1885.6,804.5 1892,814 C1898.4,823.5 1908.2,836.7 1915,845 C1921.8,853.3 1935.3,868.7 1943,876 C1950.7,883.3 1964.3,900.9 1973,900 C1981.7,899.1 2000.4,877.7 2008,869 C2015.6,860.3 2027.1,839.5 2030,835" fill="none" stroke="url(#tg)" stroke-width="5.8" stroke-linejoin="round" stroke-linecap="round"/>
<circle cx="30" cy="846" r="8.5" fill="#040f4c"/><circle cx="30" cy="846" r="6.5" fill="url(#tg)"/>
<circle cx="169" cy="738" r="8.5" fill="#040f4c"/><circle cx="169" cy="738" r="6.5" fill="url(#tg)"/>
<circle cx="310" cy="869" r="8.5" fill="#040f4c"/><circle cx="310" cy="869" r="6.5" fill="url(#tg)"/>
<circle cx="425" cy="701" r="8.5" fill="#040f4c"/><circle cx="425" cy="701" r="6.5" fill="url(#tg)"/>
<circle cx="588" cy="875" r="8.5" fill="#040f4c"/><circle cx="588" cy="875" r="6.5" fill="url(#tg)"/>
<circle cx="646" cy="791" r="8.5" fill="#040f4c"/><circle cx="646" cy="791" r="6.5" fill="url(#tg)"/>
<circle cx="775" cy="899" r="8.5" fill="#040f4c"/><circle cx="775" cy="899" r="6.5" fill="url(#tg)"/>
<circle cx="960" cy="822" r="8.5" fill="#040f4c"/><circle cx="960" cy="822" r="6.5" fill="url(#tg)"/>
<circle cx="1136" cy="945" r="8.5" fill="#040f4c"/><circle cx="1136" cy="945" r="6.5" fill="url(#tg)"/>
<circle cx="1275" cy="855" r="8.5" fill="#040f4c"/><circle cx="1275" cy="855" r="6.5" fill="url(#tg)"/>
<circle cx="1414" cy="953" r="8.5" fill="#040f4c"/><circle cx="1414" cy="953" r="6.5" fill="url(#tg)"/>
<circle cx="1555" cy="785" r="8.5" fill="#040f4c"/><circle cx="1555" cy="785" r="6.5" fill="url(#tg)"/>
<circle cx="1693" cy="935" r="8.5" fill="#040f4c"/><circle cx="1693" cy="935" r="6.5" fill="url(#tg)"/>
<circle cx="1833" cy="755" r="8.5" fill="#040f4c"/><circle cx="1833" cy="755" r="6.5" fill="url(#tg)"/>
<circle cx="1973" cy="900" r="8.5" fill="#040f4c"/><circle cx="1973" cy="900" r="6.5" fill="url(#tg)"/>
<path d="M0,1317 C2.6,1318.6 21.5,1332.3 26,1333 C30.5,1333.7 41.4,1325.0 45,1324 C48.6,1323.0 58.5,1323.8 62,1323 C65.5,1322.2 77.2,1316.2 80,1316 C82.8,1315.8 88.0,1320.7 90,1321 C92.0,1321.3 97.6,1318.7 100,1319 C102.4,1319.3 111.2,1324.2 114,1324 C116.8,1323.8 125.4,1318.8 128,1317 C130.6,1315.2 137.6,1305.6 140,1306 C142.4,1306.4 148.7,1320.0 152,1321 C155.3,1322.0 168.8,1316.2 173,1316 C177.2,1315.8 189.2,1317.6 194,1319 C198.8,1320.4 212.7,1328.6 221,1330 C229.3,1331.4 268.0,1332.7 277,1333 C286.0,1333.3 304.1,1333.3 311,1333 C317.9,1332.7 339.1,1331.6 346,1330 C352.9,1328.4 373.1,1319.5 380,1317 C386.9,1314.5 408.7,1306.6 415,1305 C421.3,1303.4 437.8,1301.2 443,1301 C448.2,1300.8 462.2,1300.8 467,1303 C471.8,1305.2 485.8,1320.7 491,1323 C496.2,1325.3 512.8,1325.3 519,1326 C525.2,1326.7 543.3,1329.6 553,1330 C562.7,1330.4 608.0,1331.6 616,1330 C624.0,1328.4 629.4,1317.3 633,1314 C636.6,1310.7 647.7,1297.2 652,1297 C656.3,1296.8 672.4,1311.5 676,1312 C679.6,1312.5 684.9,1302.8 688,1302 C691.1,1301.2 703.7,1304.5 707,1304 C710.3,1303.5 718.4,1296.7 721,1297 C723.6,1297.3 727.0,1304.4 733,1307 C739.0,1309.6 772.0,1321.4 781,1323 C790.0,1324.6 816.0,1324.4 823,1323 C830.0,1321.6 844.8,1308.9 851,1309 C857.2,1309.1 877.4,1324.9 885,1324 C892.6,1323.1 920.1,1304.1 927,1300 C933.9,1295.9 948.8,1284.5 954,1283 C959.2,1281.5 972.0,1283.8 979,1285 C986.0,1286.2 1016.8,1291.8 1024,1295 C1031.2,1298.2 1043.4,1314.1 1051,1317 C1058.6,1319.9 1091.7,1323.6 1100,1324 C1108.3,1324.4 1127.1,1322.7 1134,1321 C1140.9,1319.3 1162.1,1308.4 1169,1307 C1175.9,1305.6 1193.0,1307.8 1203,1307 C1213.0,1306.2 1259.3,1299.0 1269,1299 C1278.7,1299.0 1292.8,1303.9 1300,1307 C1307.2,1310.1 1331.0,1327.7 1341,1330 C1351.0,1332.3 1381.6,1330.6 1400,1330 C1418.4,1329.4 1510.1,1324.7 1525,1324 C1539.9,1323.3 1544.9,1323.0 1549,1323 C1553.1,1323.0 1560.1,1323.3 1566,1324 C1571.9,1324.7 1592.1,1329.4 1608,1330 C1623.9,1330.6 1706.7,1333.2 1725,1330 C1743.3,1326.8 1780.6,1301.2 1791,1298 C1801.4,1294.8 1821.7,1298.0 1829,1298 C1836.3,1298.0 1853.3,1295.2 1864,1298 C1874.7,1300.8 1922.2,1323.2 1936,1326 C1949.8,1328.8 1992.6,1327.8 2002,1326 C2011.4,1324.2 2027.2,1309.8 2030,1308" fill="none" stroke="#06123a" stroke-opacity="0.55" stroke-width="8" stroke-linejoin="round"/>
<path d="M0,1317 C2.6,1318.6 21.5,1332.3 26,1333 C30.5,1333.7 41.4,1325.0 45,1324 C48.6,1323.0 58.5,1323.8 62,1323 C65.5,1322.2 77.2,1316.2 80,1316 C82.8,1315.8 88.0,1320.7 90,1321 C92.0,1321.3 97.6,1318.7 100,1319 C102.4,1319.3 111.2,1324.2 114,1324 C116.8,1323.8 125.4,1318.8 128,1317 C130.6,1315.2 137.6,1305.6 140,1306 C142.4,1306.4 148.7,1320.0 152,1321 C155.3,1322.0 168.8,1316.2 173,1316 C177.2,1315.8 189.2,1317.6 194,1319 C198.8,1320.4 212.7,1328.6 221,1330 C229.3,1331.4 268.0,1332.7 277,1333 C286.0,1333.3 304.1,1333.3 311,1333 C317.9,1332.7 339.1,1331.6 346,1330 C352.9,1328.4 373.1,1319.5 380,1317 C386.9,1314.5 408.7,1306.6 415,1305 C421.3,1303.4 437.8,1301.2 443,1301 C448.2,1300.8 462.2,1300.8 467,1303 C471.8,1305.2 485.8,1320.7 491,1323 C496.2,1325.3 512.8,1325.3 519,1326 C525.2,1326.7 543.3,1329.6 553,1330 C562.7,1330.4 608.0,1331.6 616,1330 C624.0,1328.4 629.4,1317.3 633,1314 C636.6,1310.7 647.7,1297.2 652,1297 C656.3,1296.8 672.4,1311.5 676,1312 C679.6,1312.5 684.9,1302.8 688,1302 C691.1,1301.2 703.7,1304.5 707,1304 C710.3,1303.5 718.4,1296.7 721,1297 C723.6,1297.3 727.0,1304.4 733,1307 C739.0,1309.6 772.0,1321.4 781,1323 C790.0,1324.6 816.0,1324.4 823,1323 C830.0,1321.6 844.8,1308.9 851,1309 C857.2,1309.1 877.4,1324.9 885,1324 C892.6,1323.1 920.1,1304.1 927,1300 C933.9,1295.9 948.8,1284.5 954,1283 C959.2,1281.5 972.0,1283.8 979,1285 C986.0,1286.2 1016.8,1291.8 1024,1295 C1031.2,1298.2 1043.4,1314.1 1051,1317 C1058.6,1319.9 1091.7,1323.6 1100,1324 C1108.3,1324.4 1127.1,1322.7 1134,1321 C1140.9,1319.3 1162.1,1308.4 1169,1307 C1175.9,1305.6 1193.0,1307.8 1203,1307 C1213.0,1306.2 1259.3,1299.0 1269,1299 C1278.7,1299.0 1292.8,1303.9 1300,1307 C1307.2,1310.1 1331.0,1327.7 1341,1330 C1351.0,1332.3 1381.6,1330.6 1400,1330 C1418.4,1329.4 1510.1,1324.7 1525,1324 C1539.9,1323.3 1544.9,1323.0 1549,1323 C1553.1,1323.0 1560.1,1323.3 1566,1324 C1571.9,1324.7 1592.1,1329.4 1608,1330 C1623.9,1330.6 1706.7,1333.2 1725,1330 C1743.3,1326.8 1780.6,1301.2 1791,1298 C1801.4,1294.8 1821.7,1298.0 1829,1298 C1836.3,1298.0 1853.3,1295.2 1864,1298 C1874.7,1300.8 1922.2,1323.2 1936,1326 C1949.8,1328.8 1992.6,1327.8 2002,1326 C2011.4,1324.2 2027.2,1309.8 2030,1308" fill="none" stroke="url(#wg)" stroke-width="3.6" stroke-linejoin="round"/>
<circle cx="140" cy="1306" r="7" fill="#06123a"/><circle cx="140" cy="1306" r="5" fill="#58d0ee"/>
<circle cx="443" cy="1301" r="7" fill="#06123a"/><circle cx="443" cy="1301" r="5" fill="#40e0f8"/>
<circle cx="652" cy="1297" r="7" fill="#06123a"/><circle cx="652" cy="1297" r="5" fill="#40e0f8"/>
<circle cx="954" cy="1283" r="7" fill="#06123a"/><circle cx="954" cy="1283" r="5" fill="#2ee01a"/>
<circle cx="1269" cy="1299" r="7" fill="#06123a"/><circle cx="1269" cy="1299" r="5" fill="#40e0f8"/>
<circle cx="1549" cy="1323" r="7" fill="#06123a"/><circle cx="1549" cy="1323" r="5" fill="#4a6a9a"/>
<circle cx="1829" cy="1298" r="7" fill="#06123a"/><circle cx="1829" cy="1298" r="5" fill="#40e0f8"/>
<g id="texts">
<text x="0" y="0" transform="matrix(1.0797,0,0,0.9815,80.04,130.34)" font-size="86" font-weight="400" letter-spacing="0" word-spacing="0" fill="#07143c" stroke="#07143c" stroke-opacity="1" fill-opacity="1" stroke-width="7.1" stroke-linejoin="round">Zurich</text><text x="0" y="0" transform="matrix(1.0797,0,0,0.9815,80.04,130.34)" font-size="86" font-weight="400" letter-spacing="0" word-spacing="0" fill="#fff" stroke="#fff" stroke-width="2.1" stroke-linejoin="round">Zurich</text>
<text x="0" y="0" transform="matrix(1.0080,0,0,1.0349,376.58,130.93)" font-size="86" font-weight="400" letter-spacing="0" word-spacing="0" fill="#07143c" stroke="#07143c" stroke-opacity="1" fill-opacity="1" stroke-width="7.1" stroke-linejoin="round">21°C</text><text x="0" y="0" transform="matrix(1.0080,0,0,1.0349,376.58,130.93)" font-size="86" font-weight="400" letter-spacing="0" word-spacing="0" fill="#fff" stroke="#fff" stroke-width="2.1" stroke-linejoin="round">21°C</text>
<text x="0" y="0" transform="matrix(0.9738,0,0,0.9649,80.83,239.04)" font-size="80" font-weight="400" letter-spacing="0" word-spacing="0" fill="#07143c" stroke="#07143c" stroke-opacity="1" fill-opacity="1" stroke-width="4.4" stroke-linejoin="round">410</text><text x="0" y="0" transform="matrix(0.9738,0,0,0.9649,80.83,239.04)" font-size="80" font-weight="400" letter-spacing="0" word-spacing="0" fill="#c6cad7" stroke="#c6cad7" stroke-width="0.4" stroke-linejoin="round">410</text>
<text x="0" y="0" transform="matrix(1.0000,0,0,0.8465,221.00,240.00)" font-size="80" font-weight="400" letter-spacing="0" word-spacing="0" fill="#07143c" stroke="#07143c" stroke-opacity="1" fill-opacity="1" stroke-width="4.4" stroke-linejoin="round">m</text><text x="0" y="0" transform="matrix(1.0000,0,0,0.8465,221.00,240.00)" font-size="80" font-weight="400" letter-spacing="0" word-spacing="0" fill="#c6cad7" stroke="#c6cad7" stroke-width="0.4" stroke-linejoin="round">m</text>
<text x="0" y="0" transform="matrix(0.9329,0,0,0.9649,307.00,239.04)" font-size="80" font-weight="400" letter-spacing="0" word-spacing="0" fill="#07143c" stroke="#07143c" stroke-opacity="1" fill-opacity="1" stroke-width="4.4" stroke-linejoin="round">ASL</text><text x="0" y="0" transform="matrix(0.9329,0,0,0.9649,307.00,239.04)" font-size="80" font-weight="400" letter-spacing="0" word-spacing="0" fill="#c6cad7" stroke="#c6cad7" stroke-width="0.4" stroke-linejoin="round">ASL</text>
<text x="0" y="0" transform="matrix(1.0212,0,0,1.0298,60.89,434.00)" font-size="64" font-weight="400" letter-spacing="0" word-spacing="0" fill="#07143c" stroke="#07143c" stroke-opacity="1" fill-opacity="1" stroke-width="5.6" stroke-linejoin="round">Fri</text><text x="0" y="0" transform="matrix(1.0212,0,0,1.0298,60.89,434.00)" font-size="64" font-weight="400" letter-spacing="0" word-spacing="0" fill="#eef0f7" stroke="#eef0f7" stroke-width="0.6" stroke-linejoin="round">Fri</text>
<text x="0" y="0" transform="matrix(1.0237,0,0,1.0362,327.43,434.66)" font-size="64" font-weight="400" letter-spacing="0" word-spacing="0" fill="#07143c" stroke="#07143c" stroke-opacity="1" fill-opacity="1" stroke-width="5.6" stroke-linejoin="round">Sat</text><text x="0" y="0" transform="matrix(1.0237,0,0,1.0362,327.43,434.66)" font-size="64" font-weight="400" letter-spacing="0" word-spacing="0" fill="#eef0f7" stroke="#eef0f7" stroke-width="0.6" stroke-linejoin="round">Sat</text>
<text x="0" y="0" transform="matrix(1.0514,0,0,1.0255,598.85,434.67)" font-size="64" font-weight="400" letter-spacing="0" word-spacing="0" fill="#07143c" stroke="#07143c" stroke-opacity="1" fill-opacity="1" stroke-width="5.6" stroke-linejoin="round">Sun</text><text x="0" y="0" transform="matrix(1.0514,0,0,1.0255,598.85,434.67)" font-size="64" font-weight="400" letter-spacing="0" word-spacing="0" fill="#eef0f7" stroke="#eef0f7" stroke-width="0.6" stroke-linejoin="round">Sun</text>
<text x="0" y="0" transform="matrix(1.0948,0,0,1.0196,870.53,433.18)" font-size="64" font-weight="400" letter-spacing="0" word-spacing="0" fill="#07143c" stroke="#07143c" stroke-opacity="1" fill-opacity="1" stroke-width="5.6" stroke-linejoin="round">Mon</text><text x="0" y="0" transform="matrix(1.0948,0,0,1.0196,870.53,433.18)" font-size="64" font-weight="400" letter-spacing="0" word-spacing="0" fill="#eef0f7" stroke="#eef0f7" stroke-width="0.6" stroke-linejoin="round">Mon</text>
<text x="0" y="0" transform="matrix(1.0096,0,0,1.0478,1161.49,434.45)" font-size="64" font-weight="400" letter-spacing="0" word-spacing="0" fill="#07143c" stroke="#07143c" stroke-opacity="1" fill-opacity="1" stroke-width="5.6" stroke-linejoin="round">Tue</text><text x="0" y="0" transform="matrix(1.0096,0,0,1.0478,1161.49,434.45)" font-size="64" font-weight="400" letter-spacing="0" word-spacing="0" fill="#eef0f7" stroke="#eef0f7" stroke-width="0.6" stroke-linejoin="round">Tue</text>
<text x="0" y="0" transform="matrix(1.0520,0,0,1.0312,1427.00,434.47)" font-size="64" font-weight="400" letter-spacing="0" word-spacing="0" fill="#07143c" stroke="#07143c" stroke-opacity="1" fill-opacity="1" stroke-width="5.6" stroke-linejoin="round">Wed</text><text x="0" y="0" transform="matrix(1.0520,0,0,1.0312,1427.00,434.47)" font-size="64" font-weight="400" letter-spacing="0" word-spacing="0" fill="#eef0f7" stroke="#eef0f7" stroke-width="0.6" stroke-linejoin="round">Wed</text>
<text x="0" y="0" transform="matrix(1.0219,0,0,0.9729,1717.68,433.03)" font-size="64" font-weight="400" letter-spacing="0" word-spacing="0" fill="#07143c" stroke="#07143c" stroke-opacity="1" fill-opacity="1" stroke-width="5.6" stroke-linejoin="round">Thu</text><text x="0" y="0" transform="matrix(1.0219,0,0,0.9729,1717.68,433.03)" font-size="64" font-weight="400" letter-spacing="0" word-spacing="0" fill="#eef0f7" stroke="#eef0f7" stroke-width="0.6" stroke-linejoin="round">Thu</text>
<path d="M55.9,1084.7 L55.9,1120.8 L50.1,1120.8 L50.1,1093.1 Q46.6,1095.2 42.4,1095.5 L42.4,1089.9 Q47.0,1089.2 50.1,1084.7 Z" fill="#07143c" stroke="#07143c" stroke-width="4.4" stroke-linejoin="round" opacity="1"/><path d="M55.9,1084.7 L55.9,1120.8 L50.1,1120.8 L50.1,1093.1 Q46.6,1095.2 42.4,1095.5 L42.4,1089.9 Q47.0,1089.2 50.1,1084.7 Z" fill="#f6f8fc"/>
<text x="0" y="0" transform="matrix(1.0048,0,0,0.9333,67.39,1119.87)" font-size="53" font-weight="400" letter-spacing="0" word-spacing="0" fill="#07143c" stroke="#07143c" stroke-opacity="1" fill-opacity="1" stroke-width="5.7" stroke-linejoin="round">mm</text><text x="0" y="0" transform="matrix(1.0048,0,0,0.9333,67.39,1119.87)" font-size="53" font-weight="400" letter-spacing="0" word-spacing="0" fill="#f6f8fc" stroke="#f6f8fc" stroke-width="1.3" stroke-linejoin="round">mm</text>
<text x="0" y="0" transform="matrix(1.0808,0,0,0.9923,313.64,1121.41)" font-size="53" font-weight="400" letter-spacing="0" word-spacing="0" fill="#07143c" stroke="#07143c" stroke-opacity="0.45" fill-opacity="0.45" stroke-width="3.0" stroke-linejoin="round">0</text><text x="0" y="0" transform="matrix(1.0808,0,0,0.9923,313.64,1121.41)" font-size="53" font-weight="400" letter-spacing="0" word-spacing="0" fill="#7f91b9" stroke="#7f91b9" stroke-width="0.6" stroke-linejoin="round">0</text>
<text x="0" y="0" transform="matrix(1.0220,0,0,0.9517,353.83,1120.80)" font-size="53" font-weight="400" letter-spacing="0" word-spacing="0" fill="#07143c" stroke="#07143c" stroke-opacity="0.45" fill-opacity="0.45" stroke-width="3.0" stroke-linejoin="round">mm</text><text x="0" y="0" transform="matrix(1.0220,0,0,0.9517,353.83,1120.80)" font-size="53" font-weight="400" letter-spacing="0" word-spacing="0" fill="#7f91b9" stroke="#7f91b9" stroke-width="0.6" stroke-linejoin="round">mm</text>
<text x="0" y="0" transform="matrix(1.0346,0,0,0.9410,594.13,1120.66)" font-size="53" font-weight="400" letter-spacing="0" word-spacing="0" fill="#07143c" stroke="#07143c" stroke-opacity="1" fill-opacity="1" stroke-width="5.7" stroke-linejoin="round">6</text><text x="0" y="0" transform="matrix(1.0346,0,0,0.9410,594.13,1120.66)" font-size="53" font-weight="400" letter-spacing="0" word-spacing="0" fill="#f6f8fc" stroke="#f6f8fc" stroke-width="1.3" stroke-linejoin="round">6</text>
<text x="0" y="0" transform="matrix(0.9855,0,0,0.9333,631.24,1119.87)" font-size="53" font-weight="400" letter-spacing="0" word-spacing="0" fill="#07143c" stroke="#07143c" stroke-opacity="1" fill-opacity="1" stroke-width="5.7" stroke-linejoin="round">mm</text><text x="0" y="0" transform="matrix(0.9855,0,0,0.9333,631.24,1119.87)" font-size="53" font-weight="400" letter-spacing="0" word-spacing="0" fill="#f6f8fc" stroke="#f6f8fc" stroke-width="1.3" stroke-linejoin="round">mm</text>
<path d="M878.1,1084.9 L878.1,1120.8 L872.4,1120.8 L872.4,1093.2 Q868.6,1095.4 864.1,1095.6 L864.1,1090.0 Q869.0,1089.4 872.4,1084.9 Z" fill="#07143c" stroke="#07143c" stroke-width="4.4" stroke-linejoin="round" opacity="1"/><path d="M878.1,1084.9 L878.1,1120.8 L872.4,1120.8 L872.4,1093.2 Q868.6,1095.4 864.1,1095.6 L864.1,1090.0 Q869.0,1089.4 872.4,1084.9 Z" fill="#f6f8fc"/>
<text x="0" y="0" transform="matrix(1.0507,0,0,0.9205,884.23,1119.88)" font-size="53" font-weight="400" letter-spacing="0" word-spacing="0" fill="#07143c" stroke="#07143c" stroke-opacity="1" fill-opacity="1" stroke-width="5.7" stroke-linejoin="round">4</text><text x="0" y="0" transform="matrix(1.0507,0,0,0.9205,884.23,1119.88)" font-size="53" font-weight="400" letter-spacing="0" word-spacing="0" fill="#f6f8fc" stroke="#f6f8fc" stroke-width="1.3" stroke-linejoin="round">4</text>
<text x="0" y="0" transform="matrix(1.0048,0,0,0.9333,923.09,1119.87)" font-size="53" font-weight="400" letter-spacing="0" word-spacing="0" fill="#07143c" stroke="#07143c" stroke-opacity="1" fill-opacity="1" stroke-width="5.7" stroke-linejoin="round">mm</text><text x="0" y="0" transform="matrix(1.0048,0,0,0.9333,923.09,1119.87)" font-size="53" font-weight="400" letter-spacing="0" word-spacing="0" fill="#f6f8fc" stroke="#f6f8fc" stroke-width="1.3" stroke-linejoin="round">mm</text>
<path d="M1157.4,1084.9 L1157.4,1120.8 L1151.7,1120.8 L1151.7,1093.2 Q1147.9,1095.4 1143.4,1095.6 L1143.4,1090.0 Q1148.3,1089.4 1151.7,1084.9 Z" fill="#07143c" stroke="#07143c" stroke-width="4.4" stroke-linejoin="round" opacity="1"/><path d="M1157.4,1084.9 L1157.4,1120.8 L1151.7,1120.8 L1151.7,1093.2 Q1147.9,1095.4 1143.4,1095.6 L1143.4,1090.0 Q1148.3,1089.4 1151.7,1084.9 Z" fill="#f6f8fc"/>
<text x="0" y="0" transform="matrix(1.0507,0,0,0.9205,1163.53,1119.88)" font-size="53" font-weight="400" letter-spacing="0" word-spacing="0" fill="#07143c" stroke="#07143c" stroke-opacity="1" fill-opacity="1" stroke-width="5.7" stroke-linejoin="round">4</text><text x="0" y="0" transform="matrix(1.0507,0,0,0.9205,1163.53,1119.88)" font-size="53" font-weight="400" letter-spacing="0" word-spacing="0" fill="#f6f8fc" stroke="#f6f8fc" stroke-width="1.3" stroke-linejoin="round">4</text>
<text x="0" y="0" transform="matrix(1.0048,0,0,0.9333,1202.39,1119.87)" font-size="53" font-weight="400" letter-spacing="0" word-spacing="0" fill="#07143c" stroke="#07143c" stroke-opacity="1" fill-opacity="1" stroke-width="5.7" stroke-linejoin="round">mm</text><text x="0" y="0" transform="matrix(1.0048,0,0,0.9333,1202.39,1119.87)" font-size="53" font-weight="400" letter-spacing="0" word-spacing="0" fill="#f6f8fc" stroke="#f6f8fc" stroke-width="1.3" stroke-linejoin="round">mm</text>
<text x="0" y="0" transform="matrix(1.0808,0,0,0.9923,1430.84,1121.41)" font-size="53" font-weight="400" letter-spacing="0" word-spacing="0" fill="#07143c" stroke="#07143c" stroke-opacity="0.45" fill-opacity="0.45" stroke-width="3.0" stroke-linejoin="round">0</text><text x="0" y="0" transform="matrix(1.0808,0,0,0.9923,1430.84,1121.41)" font-size="53" font-weight="400" letter-spacing="0" word-spacing="0" fill="#7f91b9" stroke="#7f91b9" stroke-width="0.6" stroke-linejoin="round">0</text>
<text x="0" y="0" transform="matrix(1.0220,0,0,0.9517,1471.03,1120.80)" font-size="53" font-weight="400" letter-spacing="0" word-spacing="0" fill="#07143c" stroke="#07143c" stroke-opacity="0.45" fill-opacity="0.45" stroke-width="3.0" stroke-linejoin="round">mm</text><text x="0" y="0" transform="matrix(1.0220,0,0,0.9517,1471.03,1120.80)" font-size="53" font-weight="400" letter-spacing="0" word-spacing="0" fill="#7f91b9" stroke="#7f91b9" stroke-width="0.6" stroke-linejoin="round">mm</text>
<text x="0" y="0" transform="matrix(1.0808,0,0,0.9923,1710.14,1121.41)" font-size="53" font-weight="400" letter-spacing="0" word-spacing="0" fill="#07143c" stroke="#07143c" stroke-opacity="0.45" fill-opacity="0.45" stroke-width="3.0" stroke-linejoin="round">0</text><text x="0" y="0" transform="matrix(1.0808,0,0,0.9923,1710.14,1121.41)" font-size="53" font-weight="400" letter-spacing="0" word-spacing="0" fill="#7f91b9" stroke="#7f91b9" stroke-width="0.6" stroke-linejoin="round">0</text>
<text x="0" y="0" transform="matrix(1.0220,0,0,0.9517,1750.33,1120.80)" font-size="53" font-weight="400" letter-spacing="0" word-spacing="0" fill="#07143c" stroke="#07143c" stroke-opacity="0.45" fill-opacity="0.45" stroke-width="3.0" stroke-linejoin="round">mm</text><text x="0" y="0" transform="matrix(1.0220,0,0,0.9517,1750.33,1120.80)" font-size="53" font-weight="400" letter-spacing="0" word-spacing="0" fill="#7f91b9" stroke="#7f91b9" stroke-width="0.6" stroke-linejoin="round">mm</text>
<text x="0" y="0" transform="matrix(1.0808,0,0,0.9923,1989.44,1121.41)" font-size="53" font-weight="400" letter-spacing="0" word-spacing="0" fill="#07143c" stroke="#07143c" stroke-opacity="0.45" fill-opacity="0.45" stroke-width="3.0" stroke-linejoin="round">0</text><text x="0" y="0" transform="matrix(1.0808,0,0,0.9923,1989.44,1121.41)" font-size="53" font-weight="400" letter-spacing="0" word-spacing="0" fill="#7f91b9" stroke="#7f91b9" stroke-width="0.6" stroke-linejoin="round">0</text>
<text x="0" y="0" transform="matrix(1.0220,0,0,0.9517,2029.63,1120.80)" font-size="53" font-weight="400" letter-spacing="0" word-spacing="0" fill="#07143c" stroke="#07143c" stroke-opacity="0.45" fill-opacity="0.45" stroke-width="3.0" stroke-linejoin="round">mm</text><text x="0" y="0" transform="matrix(1.0220,0,0,0.9517,2029.63,1120.80)" font-size="53" font-weight="400" letter-spacing="0" word-spacing="0" fill="#7f91b9" stroke="#7f91b9" stroke-width="0.6" stroke-linejoin="round">mm</text>
<path d="M62.1,867.0 L62.1,916.0 L53.8,916.0 L53.8,878.4 Q48.9,881.3 43.0,881.6 L43.0,874.0 Q49.4,873.1 53.8,867.0 Z" fill="#040f50" stroke="#040f50" stroke-width="5.2" stroke-linejoin="round" opacity="1"/><path d="M62.1,867.0 L62.1,916.0 L53.8,916.0 L53.8,878.4 Q48.9,881.3 43.0,881.6 L43.0,874.0 Q49.4,873.1 53.8,867.0 Z" fill="#ffe800"/>
<text x="0" y="0" transform="matrix(1.0653,0,0,1.0208,68.71,914.98)" font-size="67" font-weight="400" letter-spacing="0" word-spacing="0" fill="#040f50" stroke="#040f50" stroke-opacity="1" fill-opacity="1" stroke-width="6.300000000000001" stroke-linejoin="round">9</text><text x="0" y="0" transform="matrix(1.0653,0,0,1.0208,68.71,914.98)" font-size="67" font-weight="400" letter-spacing="0" word-spacing="0" fill="#ffe800" stroke="#ffe800" stroke-width="1.1" stroke-linejoin="round">9</text>
<text x="0" y="0" transform="matrix(1.0145,0,0,0.9792,178.96,723.02)" font-size="67" font-weight="400" letter-spacing="0" word-spacing="0" fill="#040f50" stroke="#040f50" stroke-opacity="1" fill-opacity="1" stroke-width="6.300000000000001" stroke-linejoin="round">27</text><text x="0" y="0" transform="matrix(1.0145,0,0,0.9792,178.96,723.02)" font-size="67" font-weight="400" letter-spacing="0" word-spacing="0" fill="#ff6a00" stroke="#ff6a00" stroke-width="1.1" stroke-linejoin="round">27</text>
<path d="M342.7,890.0 L342.7,938.0 L334.6,938.0 L334.6,901.1 Q329.8,904.0 324.0,904.3 L324.0,896.9 Q330.3,896.0 334.6,890.0 Z" fill="#040f50" stroke="#040f50" stroke-width="5.2" stroke-linejoin="round" opacity="1"/><path d="M342.7,890.0 L342.7,938.0 L334.6,938.0 L334.6,901.1 Q329.8,904.0 324.0,904.3 L324.0,896.9 Q330.3,896.0 334.6,890.0 Z" fill="#fff000"/>
<text x="0" y="0" transform="matrix(0.9903,0,0,1.0000,350.34,937.00)" font-size="67" font-weight="400" letter-spacing="0" word-spacing="0" fill="#040f50" stroke="#040f50" stroke-opacity="1" fill-opacity="1" stroke-width="6.300000000000001" stroke-linejoin="round">8</text><text x="0" y="0" transform="matrix(0.9903,0,0,1.0000,350.34,937.00)" font-size="67" font-weight="400" letter-spacing="0" word-spacing="0" fill="#fff000" stroke="#fff000" stroke-width="1.1" stroke-linejoin="round">8</text>
<text x="0" y="0" transform="matrix(1.0429,0,0,0.9375,436.91,686.06)" font-size="67" font-weight="400" letter-spacing="0" word-spacing="0" fill="#040f50" stroke="#040f50" stroke-opacity="1" fill-opacity="1" stroke-width="6.300000000000001" stroke-linejoin="round">30</text><text x="0" y="0" transform="matrix(1.0429,0,0,0.9375,436.91,686.06)" font-size="67" font-weight="400" letter-spacing="0" word-spacing="0" fill="#ff5c00" stroke="#ff5c00" stroke-width="1.1" stroke-linejoin="round">30</text>
<path d="M619.7,897.0 L619.7,945.0 L611.6,945.0 L611.6,908.1 Q606.8,911.0 601.0,911.3 L601.0,903.9 Q607.3,903.0 611.6,897.0 Z" fill="#040f50" stroke="#040f50" stroke-width="5.2" stroke-linejoin="round" opacity="1"/><path d="M619.7,897.0 L619.7,945.0 L611.6,945.0 L611.6,908.1 Q606.8,911.0 601.0,911.3 L601.0,903.9 Q607.3,903.0 611.6,897.0 Z" fill="#fff000"/>
<text x="0" y="0" transform="matrix(1.0812,0,0,1.0000,627.16,944.00)" font-size="67" font-weight="400" letter-spacing="0" word-spacing="0" fill="#040f50" stroke="#040f50" stroke-opacity="1" fill-opacity="1" stroke-width="6.300000000000001" stroke-linejoin="round">8</text><text x="0" y="0" transform="matrix(1.0812,0,0,1.0000,627.16,944.00)" font-size="67" font-weight="400" letter-spacing="0" word-spacing="0" fill="#fff000" stroke="#fff000" stroke-width="1.1" stroke-linejoin="round">8</text>
<text x="0" y="0" transform="matrix(1.0290,0,0,1.0000,655.91,777.00)" font-size="67" font-weight="400" letter-spacing="0" word-spacing="0" fill="#040f50" stroke="#040f50" stroke-opacity="1" fill-opacity="1" stroke-width="6.300000000000001" stroke-linejoin="round">23</text><text x="0" y="0" transform="matrix(1.0290,0,0,1.0000,655.91,777.00)" font-size="67" font-weight="400" letter-spacing="0" word-spacing="0" fill="#ff9800" stroke="#ff9800" stroke-width="1.1" stroke-linejoin="round">23</text>
<path d="M806.1,920.0 L806.1,969.0 L797.8,969.0 L797.8,931.4 Q792.9,934.3 787.0,934.6 L787.0,927.0 Q793.4,926.1 797.8,920.0 Z" fill="#040f50" stroke="#040f50" stroke-width="5.2" stroke-linejoin="round" opacity="1"/><path d="M806.1,920.0 L806.1,969.0 L797.8,969.0 L797.8,931.4 Q792.9,934.3 787.0,934.6 L787.0,927.0 Q793.4,926.1 797.8,920.0 Z" fill="#ffff00"/>
<text x="0" y="0" transform="matrix(1.0653,0,0,1.0208,812.71,967.98)" font-size="67" font-weight="400" letter-spacing="0" word-spacing="0" fill="#040f50" stroke="#040f50" stroke-opacity="1" fill-opacity="1" stroke-width="6.300000000000001" stroke-linejoin="round">6</text><text x="0" y="0" transform="matrix(1.0653,0,0,1.0208,812.71,967.98)" font-size="67" font-weight="400" letter-spacing="0" word-spacing="0" fill="#ffff00" stroke="#ffff00" stroke-width="1.1" stroke-linejoin="round">6</text>
<text x="0" y="0" transform="matrix(1.1820,0,0,0.9792,969.45,807.02)" font-size="67" font-weight="400" letter-spacing="0" word-spacing="0" fill="#040f50" stroke="#040f50" stroke-opacity="1" fill-opacity="1" stroke-width="6.300000000000001" stroke-linejoin="round">2</text><text x="0" y="0" transform="matrix(1.1820,0,0,0.9792,969.45,807.02)" font-size="67" font-weight="400" letter-spacing="0" word-spacing="0" fill="#ffa800" stroke="#ffa800" stroke-width="1.1" stroke-linejoin="round">2</text>
<path d="M1033.0,761.0 L1033.0,808.0 L1025.0,808.0 L1025.0,771.9 Q1020.4,774.7 1014.7,775.0 L1014.7,767.7 Q1020.8,766.8 1025.0,761.0 Z" fill="#040f50" stroke="#040f50" stroke-width="5.2" stroke-linejoin="round" opacity="1"/><path d="M1033.0,761.0 L1033.0,808.0 L1025.0,808.0 L1025.0,771.9 Q1020.4,774.7 1014.7,775.0 L1014.7,767.7 Q1020.8,766.8 1025.0,761.0 Z" fill="#ffa800"/>
<path d="M1168.1,967.0 L1168.1,1016.0 L1159.8,1016.0 L1159.8,978.4 Q1154.9,981.3 1149.0,981.6 L1149.0,974.0 Q1155.4,973.1 1159.8,967.0 Z" fill="#040f50" stroke="#040f50" stroke-width="5.2" stroke-linejoin="round" opacity="1"/><path d="M1168.1,967.0 L1168.1,1016.0 L1159.8,1016.0 L1159.8,978.4 Q1154.9,981.3 1149.0,981.6 L1149.0,974.0 Q1155.4,973.1 1159.8,967.0 Z" fill="#e4f21c"/>
<text x="0" y="0" transform="matrix(0.9421,0,0,1.0208,1176.03,1014.98)" font-size="67" font-weight="400" letter-spacing="0" word-spacing="0" fill="#040f50" stroke="#040f50" stroke-opacity="1" fill-opacity="1" stroke-width="6.300000000000001" stroke-linejoin="round">3</text><text x="0" y="0" transform="matrix(0.9421,0,0,1.0208,1176.03,1014.98)" font-size="67" font-weight="400" letter-spacing="0" word-spacing="0" fill="#e4f21c" stroke="#e4f21c" stroke-width="1.1" stroke-linejoin="round">3</text>
<path d="M1305.9,795.0 L1305.9,841.0 L1298.1,841.0 L1298.1,805.7 Q1293.6,808.4 1288.0,808.7 L1288.0,801.6 Q1294.0,800.7 1298.1,795.0 Z" fill="#040f50" stroke="#040f50" stroke-width="5.2" stroke-linejoin="round" opacity="1"/><path d="M1305.9,795.0 L1305.9,841.0 L1298.1,841.0 L1298.1,805.7 Q1293.6,808.4 1288.0,808.7 L1288.0,801.6 Q1294.0,800.7 1298.1,795.0 Z" fill="#ffe800"/>
<text x="0" y="0" transform="matrix(1.0269,0,0,0.9583,1312.06,840.04)" font-size="67" font-weight="400" letter-spacing="0" word-spacing="0" fill="#040f50" stroke="#040f50" stroke-opacity="1" fill-opacity="1" stroke-width="6.300000000000001" stroke-linejoin="round">9</text><text x="0" y="0" transform="matrix(1.0269,0,0,0.9583,1312.06,840.04)" font-size="67" font-weight="400" letter-spacing="0" word-spacing="0" fill="#ffe800" stroke="#ffe800" stroke-width="1.1" stroke-linejoin="round">9</text>
<path d="M1445.7,972.0 L1445.7,1020.0 L1437.6,1020.0 L1437.6,983.1 Q1432.8,986.0 1427.0,986.3 L1427.0,978.9 Q1433.3,978.0 1437.6,972.0 Z" fill="#040f50" stroke="#040f50" stroke-width="5.2" stroke-linejoin="round" opacity="1"/><path d="M1445.7,972.0 L1445.7,1020.0 L1437.6,1020.0 L1437.6,983.1 Q1432.8,986.0 1427.0,986.3 L1427.0,978.9 Q1433.3,978.0 1437.6,972.0 Z" fill="#d8ee1c"/>
<text x="0" y="0" transform="matrix(1.0542,0,0,1.0000,1452.16,1019.00)" font-size="67" font-weight="400" letter-spacing="0" word-spacing="0" fill="#040f50" stroke="#040f50" stroke-opacity="1" fill-opacity="1" stroke-width="6.300000000000001" stroke-linejoin="round">2</text><text x="0" y="0" transform="matrix(1.0542,0,0,1.0000,1452.16,1019.00)" font-size="67" font-weight="400" letter-spacing="0" word-spacing="0" fill="#d8ee1c" stroke="#d8ee1c" stroke-width="1.1" stroke-linejoin="round">2</text>
<text x="0" y="0" transform="matrix(1.0857,0,0,0.9792,1563.74,771.02)" font-size="67" font-weight="400" letter-spacing="0" word-spacing="0" fill="#040f50" stroke="#040f50" stroke-opacity="1" fill-opacity="1" stroke-width="6.300000000000001" stroke-linejoin="round">24</text><text x="0" y="0" transform="matrix(1.0857,0,0,0.9792,1563.74,771.02)" font-size="67" font-weight="400" letter-spacing="0" word-spacing="0" fill="#ff9000" stroke="#ff9000" stroke-width="1.1" stroke-linejoin="round">24</text>
<path d="M1726.7,956.0 L1726.7,1004.0 L1718.6,1004.0 L1718.6,967.1 Q1713.8,970.0 1708.0,970.3 L1708.0,962.9 Q1714.3,962.0 1718.6,956.0 Z" fill="#040f50" stroke="#040f50" stroke-width="5.2" stroke-linejoin="round" opacity="1"/><path d="M1726.7,956.0 L1726.7,1004.0 L1718.6,1004.0 L1718.6,967.1 Q1713.8,970.0 1708.0,970.3 L1708.0,962.9 Q1714.3,962.0 1718.6,956.0 Z" fill="#e4f21c"/>
<text x="0" y="0" transform="matrix(0.9297,0,0,1.0000,1734.46,1003.00)" font-size="67" font-weight="400" letter-spacing="0" word-spacing="0" fill="#040f50" stroke="#040f50" stroke-opacity="1" fill-opacity="1" stroke-width="6.300000000000001" stroke-linejoin="round">3</text><text x="0" y="0" transform="matrix(0.9297,0,0,1.0000,1734.46,1003.00)" font-size="67" font-weight="400" letter-spacing="0" word-spacing="0" fill="#e4f21c" stroke="#e4f21c" stroke-width="1.1" stroke-linejoin="round">3</text>
<text x="0" y="0" transform="matrix(1.0145,0,0,0.9375,1842.96,741.06)" font-size="67" font-weight="400" letter-spacing="0" word-spacing="0" fill="#040f50" stroke="#040f50" stroke-opacity="1" fill-opacity="1" stroke-width="6.300000000000001" stroke-linejoin="round">26</text><text x="0" y="0" transform="matrix(1.0145,0,0,0.9375,1842.96,741.06)" font-size="67" font-weight="400" letter-spacing="0" word-spacing="0" fill="#ff7800" stroke="#ff7800" stroke-width="1.1" stroke-linejoin="round">26</text>
<path d="M2007.1,928.0 L2007.1,977.0 L1998.8,977.0 L1998.8,939.4 Q1993.9,942.3 1988.0,942.6 L1988.0,935.0 Q1994.4,934.1 1998.8,928.0 Z" fill="#040f50" stroke="#040f50" stroke-width="5.2" stroke-linejoin="round" opacity="1"/><path d="M2007.1,928.0 L2007.1,977.0 L1998.8,977.0 L1998.8,939.4 Q1993.9,942.3 1988.0,942.6 L1988.0,935.0 Q1994.4,934.1 1998.8,928.0 Z" fill="#ffff00"/>
<text x="0" y="0" transform="matrix(1.0653,0,0,1.0208,2013.71,975.98)" font-size="67" font-weight="400" letter-spacing="0" word-spacing="0" fill="#040f50" stroke="#040f50" stroke-opacity="1" fill-opacity="1" stroke-width="6.300000000000001" stroke-linejoin="round">6</text><text x="0" y="0" transform="matrix(1.0653,0,0,1.0208,2013.71,975.98)" font-size="67" font-weight="400" letter-spacing="0" word-spacing="0" fill="#ffff00" stroke="#ffff00" stroke-width="1.1" stroke-linejoin="round">6</text>
<path d="M167.0,1241.5 L167.0,1280.0 L160.9,1280.0 L160.9,1250.4 Q156.9,1252.7 152.0,1253.0 L152.0,1247.0 Q157.3,1246.3 160.9,1241.5 Z" fill="#07143c" stroke="#07143c" stroke-width="6" stroke-linejoin="round" opacity="1"/><path d="M167.0,1241.5 L167.0,1280.0 L160.9,1280.0 L160.9,1250.4 Q156.9,1252.7 152.0,1253.0 L152.0,1247.0 Q157.3,1246.3 160.9,1241.5 Z" fill="#5ad6f0"/>
<text x="0" y="0" transform="matrix(0.9702,0,0,1.0405,172.77,1278.96)" font-size="50" font-weight="400" letter-spacing="0" word-spacing="0" fill="#07143c" stroke="#07143c" stroke-opacity="1" fill-opacity="1" stroke-width="7.3" stroke-linejoin="round">2</text><text x="0" y="0" transform="matrix(0.9702,0,0,1.0405,172.77,1278.96)" font-size="50" font-weight="400" letter-spacing="0" word-spacing="0" fill="#5ad6f0" stroke="#5ad6f0" stroke-width="1.3" stroke-linejoin="round">2</text>
<path d="M470.4,1237.0 L470.4,1274.0 L464.5,1274.0 L464.5,1245.6 Q460.7,1247.8 456.0,1248.0 L456.0,1242.3 Q461.1,1241.6 464.5,1237.0 Z" fill="#07143c" stroke="#07143c" stroke-width="6" stroke-linejoin="round" opacity="1"/><path d="M470.4,1237.0 L470.4,1274.0 L464.5,1274.0 L464.5,1245.6 Q460.7,1247.8 456.0,1248.0 L456.0,1242.3 Q461.1,1241.6 464.5,1237.0 Z" fill="#5ad6f0"/>
<text x="0" y="0" transform="matrix(1.0063,0,0,1.0000,477.83,1273.00)" font-size="50" font-weight="400" letter-spacing="0" word-spacing="0" fill="#07143c" stroke="#07143c" stroke-opacity="1" fill-opacity="1" stroke-width="7.3" stroke-linejoin="round">4</text><text x="0" y="0" transform="matrix(1.0063,0,0,1.0000,477.83,1273.00)" font-size="50" font-weight="400" letter-spacing="0" word-spacing="0" fill="#5ad6f0" stroke="#5ad6f0" stroke-width="1.3" stroke-linejoin="round">4</text>
<path d="M681.1,1232.6 L681.1,1269.7 L675.1,1269.7 L675.1,1241.2 Q671.3,1243.4 666.6,1243.7 L666.6,1237.9 Q671.7,1237.2 675.1,1232.6 Z" fill="#07143c" stroke="#07143c" stroke-width="6" stroke-linejoin="round" opacity="1"/><path d="M681.1,1232.6 L681.1,1269.7 L675.1,1269.7 L675.1,1241.2 Q671.3,1243.4 666.6,1243.7 L666.6,1237.9 Q671.7,1237.2 675.1,1232.6 Z" fill="#5ad6f0"/>
<text x="0" y="0" transform="matrix(0.9644,0,0,1.0027,687.52,1268.70)" font-size="50" font-weight="400" letter-spacing="0" word-spacing="0" fill="#07143c" stroke="#07143c" stroke-opacity="1" fill-opacity="1" stroke-width="7.3" stroke-linejoin="round">5</text><text x="0" y="0" transform="matrix(0.9644,0,0,1.0027,687.52,1268.70)" font-size="50" font-weight="400" letter-spacing="0" word-spacing="0" fill="#5ad6f0" stroke="#5ad6f0" stroke-width="1.3" stroke-linejoin="round">5</text>
<text x="0" y="0" transform="matrix(1.1300,0,0,1.0811,963.74,1255.92)" font-size="50" font-weight="400" letter-spacing="0" word-spacing="0" fill="#07143c" stroke="#07143c" stroke-opacity="1" fill-opacity="1" stroke-width="7.3" stroke-linejoin="round">2</text><text x="0" y="0" transform="matrix(1.1300,0,0,1.0811,963.74,1255.92)" font-size="50" font-weight="400" letter-spacing="0" word-spacing="0" fill="#3ee020" stroke="#3ee020" stroke-width="1.3" stroke-linejoin="round">2</text>
<path d="M1013.0,1217.0 L1013.0,1257.0 L1006.6,1257.0 L1006.6,1226.3 Q1002.5,1228.7 997.4,1228.9 L997.4,1222.7 Q1002.9,1222.0 1006.6,1217.0 Z" fill="#07143c" stroke="#07143c" stroke-width="6" stroke-linejoin="round" opacity="1"/><path d="M1013.0,1217.0 L1013.0,1257.0 L1006.6,1257.0 L1006.6,1226.3 Q1002.5,1228.7 997.4,1228.9 L997.4,1222.7 Q1002.9,1222.0 1006.6,1217.0 Z" fill="#3ee020"/>
<path d="M1297.0,1236.0 L1297.0,1272.0 L1291.3,1272.0 L1291.3,1244.4 Q1287.6,1246.5 1283.0,1246.7 L1283.0,1241.1 Q1287.9,1240.5 1291.3,1236.0 Z" fill="#07143c" stroke="#07143c" stroke-width="6" stroke-linejoin="round" opacity="1"/><path d="M1297.0,1236.0 L1297.0,1272.0 L1291.3,1272.0 L1291.3,1244.4 Q1287.6,1246.5 1283.0,1246.7 L1283.0,1241.1 Q1287.9,1240.5 1291.3,1236.0 Z" fill="#5ad6f0"/>
<text x="0" y="0" transform="matrix(0.9911,0,0,0.9730,1304.24,1271.03)" font-size="50" font-weight="400" letter-spacing="0" word-spacing="0" fill="#07143c" stroke="#07143c" stroke-opacity="1" fill-opacity="1" stroke-width="7.3" stroke-linejoin="round">4</text><text x="0" y="0" transform="matrix(0.9911,0,0,0.9730,1304.24,1271.03)" font-size="50" font-weight="400" letter-spacing="0" word-spacing="0" fill="#5ad6f0" stroke="#5ad6f0" stroke-width="1.3" stroke-linejoin="round">4</text>
<text x="0" y="0" transform="matrix(1.2083,0,0,1.0270,1556.58,1294.97)" font-size="50" font-weight="400" letter-spacing="0" word-spacing="0" fill="#07143c" stroke="#07143c" stroke-opacity="1" fill-opacity="1" stroke-width="7.3" stroke-linejoin="round">6</text><text x="0" y="0" transform="matrix(1.2083,0,0,1.0270,1556.58,1294.97)" font-size="50" font-weight="400" letter-spacing="0" word-spacing="0" fill="#ffffff" stroke="#ffffff" stroke-width="1.3" stroke-linejoin="round">6</text>
<path d="M1855.8,1236.0 L1855.8,1274.0 L1849.7,1274.0 L1849.7,1244.8 Q1845.8,1247.1 1841.0,1247.3 L1841.0,1241.4 Q1846.2,1240.7 1849.7,1236.0 Z" fill="#07143c" stroke="#07143c" stroke-width="6" stroke-linejoin="round" opacity="1"/><path d="M1855.8,1236.0 L1855.8,1274.0 L1849.7,1274.0 L1849.7,1244.8 Q1845.8,1247.1 1841.0,1247.3 L1841.0,1241.4 Q1846.2,1240.7 1849.7,1236.0 Z" fill="#5ad6f0"/>
<text x="0" y="0" transform="matrix(0.9474,0,0,1.0270,1863.42,1272.97)" font-size="50" font-weight="400" letter-spacing="0" word-spacing="0" fill="#07143c" stroke="#07143c" stroke-opacity="1" fill-opacity="1" stroke-width="7.3" stroke-linejoin="round">4</text><text x="0" y="0" transform="matrix(0.9474,0,0,1.0270,1863.42,1272.97)" font-size="50" font-weight="400" letter-spacing="0" word-spacing="0" fill="#5ad6f0" stroke="#5ad6f0" stroke-width="1.3" stroke-linejoin="round">4</text>
</g>
<rect x="60.8" y="486" width="13.6" height="858" rx="6.8" fill="#06123a"/>
<circle cx="67.6" cy="476.5" r="22" fill="#06123a"/>
<rect x="62.9" y="488" width="9.4" height="852" rx="4.7" fill="#ffffff"/>
<circle cx="67.6" cy="476.5" r="15.4" fill="none" stroke="#ffffff" stroke-width="8"/>
<rect x="1386" y="45" width="557" height="170" rx="85" fill="#06103a" fill-opacity="0.7"/>
<rect x="1390" y="49.5" width="549" height="162" rx="81" fill="#5b6487" stroke="#7079a0" stroke-width="1.5"/>
<rect x="1388" y="46" width="304" height="170" rx="85" fill="#07123a"/>
<rect x="1392" y="48.7" width="296.4" height="164.4" rx="82.2" fill="#ffffff"/>
<text x="0" y="0" transform="matrix(1.0665,0,0,1.0304,1455.00,152.77)" font-size="62" font-weight="400" letter-spacing="0" word-spacing="0" fill="#0b1030" stroke="#0b1030" stroke-width="1.2" stroke-linejoin="round">Week</text>
<text x="0" y="0" transform="matrix(1.1269,0,0,1.0756,1750.50,153.72)" font-size="62" font-weight="400" letter-spacing="0" word-spacing="0" fill="#07143c" stroke="#07143c" stroke-opacity="0.6" fill-opacity="0.6" stroke-width="5.6" stroke-linejoin="round">42</text><text x="0" y="0" transform="matrix(1.1269,0,0,1.0756,1750.50,153.72)" font-size="62" font-weight="400" letter-spacing="0" word-spacing="0" fill="#fff" stroke="#fff" stroke-width="2.6" stroke-linejoin="round">42</text>
<text x="0" y="0" transform="matrix(1.1034,0,0,1.0522,1837.69,153.75)" font-size="62" font-weight="400" letter-spacing="0" word-spacing="0" fill="#07143c" stroke="#07143c" stroke-opacity="0.6" fill-opacity="0.6" stroke-width="5.6" stroke-linejoin="round">h</text><text x="0" y="0" transform="matrix(1.1034,0,0,1.0522,1837.69,153.75)" font-size="62" font-weight="400" letter-spacing="0" word-spacing="0" fill="#fff" stroke="#fff" stroke-width="2.6" stroke-linejoin="round">h</text>
<circle cx="79.0" cy="774.5" r="65" fill="#000" fill-opacity="0.22" filter="url(#blur3)"/>
<circle cx="77.5" cy="772" r="60.3" fill="#38364f" stroke="#3a93f4" stroke-width="6.8"/>
<circle cx="239.1" cy="1127.4" r="65" fill="#000" fill-opacity="0.22" filter="url(#blur3)"/>
<circle cx="237.6" cy="1124.9" r="60.3" fill="#38364f" stroke="#3a93f4" stroke-width="6.8"/>
<circle cx="1363.0" cy="562.9" r="65" fill="#000" fill-opacity="0.22" filter="url(#blur3)"/>
<circle cx="1361.5" cy="560.4" r="60.3" fill="#38364f" stroke="#3a93f4" stroke-width="6.8"/>
<circle cx="1462.8" cy="1319.3" r="65" fill="#000" fill-opacity="0.22" filter="url(#blur3)"/>
<circle cx="1461.3" cy="1316.8" r="60.3" fill="#38364f" stroke="#3a93f4" stroke-width="6.8"/>
<text x="0" y="0" transform="matrix(1.0314,0,0,0.9865,215.34,1149.81)" font-size="70" font-weight="400" letter-spacing="0" word-spacing="0" fill="#fff" stroke="#fff" stroke-width="2.6" stroke-linejoin="round">2</text>
<text x="0" y="0" transform="matrix(0.9472,0,0,0.9868,1343.95,585.83)" font-size="70" font-weight="400" letter-spacing="0" word-spacing="0" fill="#fff" stroke="#fff" stroke-width="2.6" stroke-linejoin="round">3</text>
<text x="0" y="0" transform="matrix(1.0921,0,0,1.0176,1439.90,1342.38)" font-size="70" font-weight="400" letter-spacing="0" word-spacing="0" fill="#fff" stroke="#fff" stroke-width="2.6" stroke-linejoin="round">4</text>
<path d="M84.7,747.7 L84.7,798.7 L76,798.7 L76,759.5 Q71,762.6 64.9,762.9 L64.9,755 Q71.5,754 76.3,747.7 Z" fill="#ffffff"/>
</svg>
</div></body></html>
